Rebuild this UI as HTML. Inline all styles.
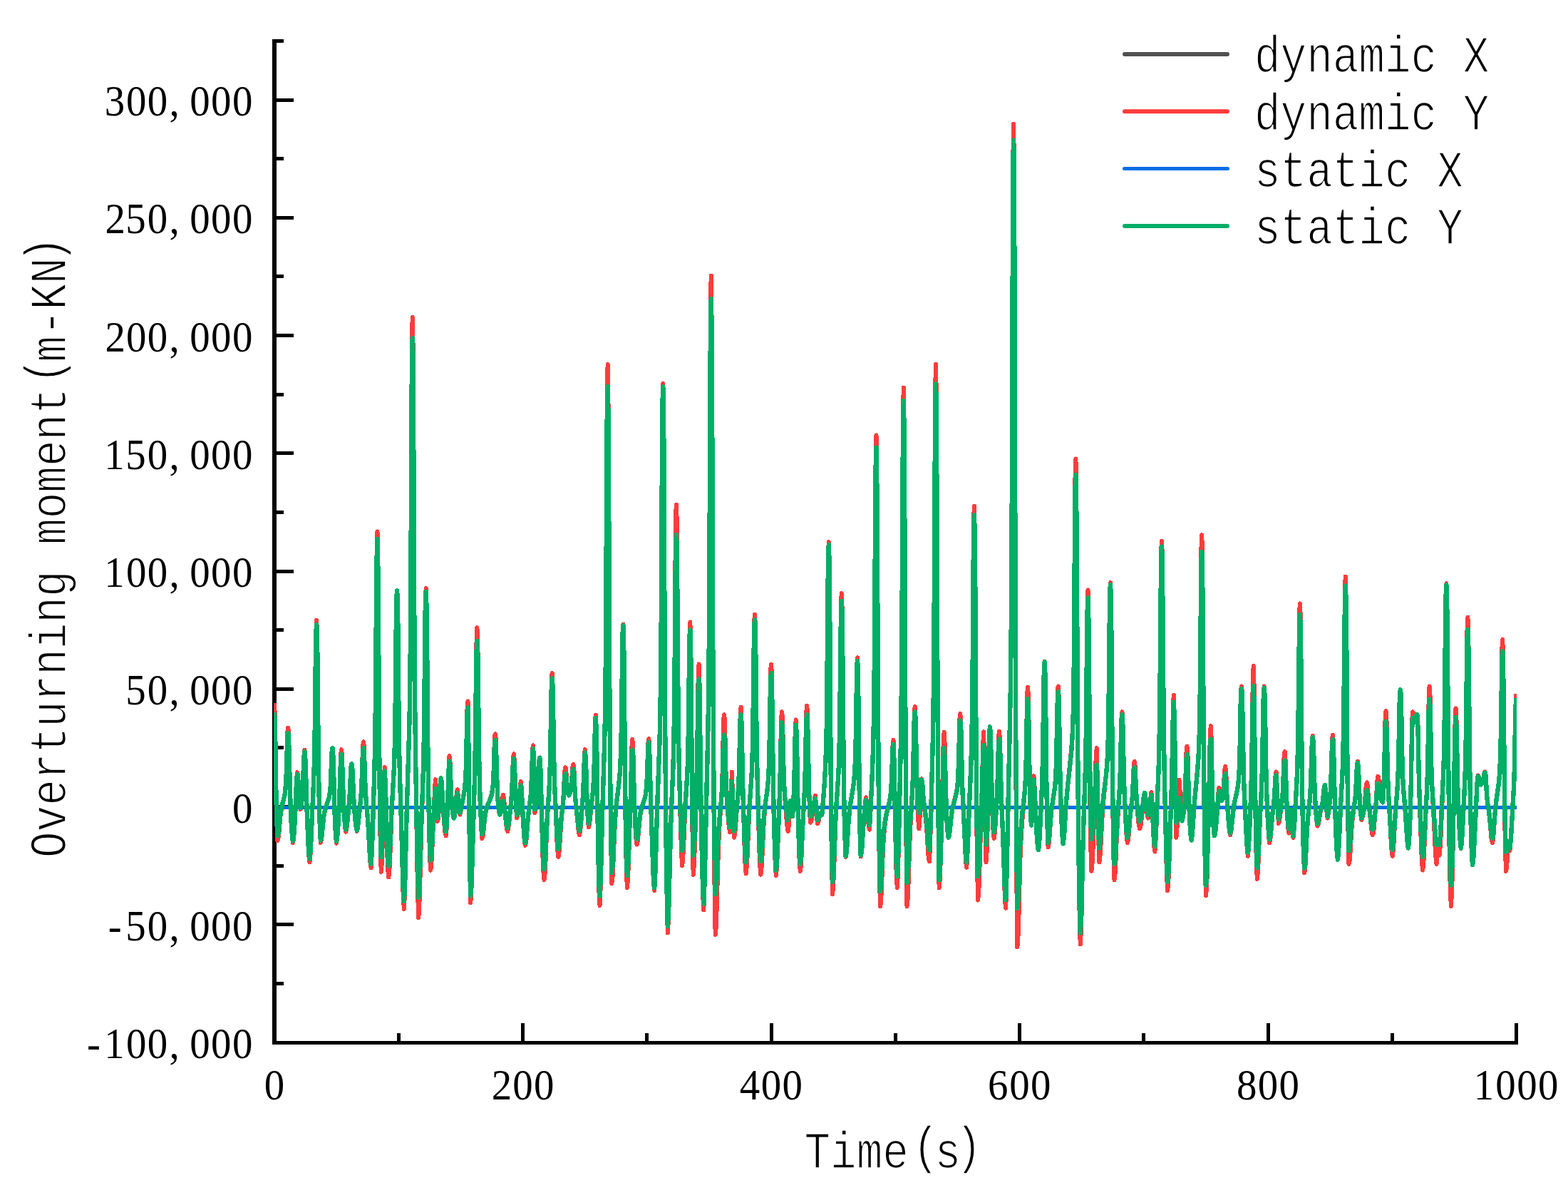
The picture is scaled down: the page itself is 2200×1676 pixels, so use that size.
<!DOCTYPE html>
<html lang="en"><head><meta charset="utf-8"><title>Overturning moment</title>
<style>html,body{margin:0;padding:0;background:#fff}body{width:2200px;height:1676px;overflow:hidden}svg{display:block}text{font-family:"Liberation Serif",serif;fill:#000}text.m{font-family:"Liberation Mono",monospace;stroke:#fff;stroke-linejoin:round}</style></head><body>
<svg width="2200" height="1676" viewBox="0 0 2200 1676">
<rect width="2200" height="1676" fill="#fff"/>
<g fill="#000" shape-rendering="crispEdges">
<rect x="382" y="55" width="6" height="1410"/>
<rect x="382" y="1460" width="1748" height="5"/>
<rect x="382" y="1460" width="30" height="5"/>
<rect x="382" y="1377" width="16" height="5"/>
<rect x="382" y="1294" width="30" height="5"/>
<rect x="382" y="1212" width="16" height="5"/>
<rect x="382" y="1129" width="30" height="5"/>
<rect x="382" y="1046" width="16" height="5"/>
<rect x="382" y="964" width="30" height="5"/>
<rect x="382" y="881" width="16" height="5"/>
<rect x="382" y="799" width="30" height="5"/>
<rect x="382" y="716" width="16" height="5"/>
<rect x="382" y="633" width="30" height="5"/>
<rect x="382" y="551" width="16" height="5"/>
<rect x="382" y="468" width="30" height="5"/>
<rect x="382" y="385" width="16" height="5"/>
<rect x="382" y="303" width="30" height="5"/>
<rect x="382" y="220" width="16" height="5"/>
<rect x="382" y="138" width="30" height="5"/>
<rect x="382" y="55" width="16" height="5"/>
<rect x="557" y="1449" width="5" height="13"/>
<rect x="731" y="1435" width="5" height="27"/>
<rect x="905" y="1449" width="5" height="13"/>
<rect x="1080" y="1435" width="5" height="27"/>
<rect x="1254" y="1449" width="5" height="13"/>
<rect x="1428" y="1435" width="5" height="27"/>
<rect x="1602" y="1449" width="5" height="13"/>
<rect x="1777" y="1435" width="5" height="27"/>
<rect x="1951" y="1449" width="5" height="13"/>
<rect x="2125" y="1435" width="5" height="27"/>
</g>
<clipPath id="plot"><rect x="384" y="40" width="1744" height="1420"/></clipPath>
<g fill="none" stroke-linejoin="round" stroke-linecap="butt" clip-path="url(#plot)" shape-rendering="crispEdges">
<path d="M385.0 1132.5H2127.5" stroke="#515151" stroke-width="4"/>
<path d="M385.0 986.4L385.5 996.7L386.0 1014.0L386.5 1043.8L387.4 1114.4L387.9 1139.8L388.7 1164.3L389.4 1179.2L390.1 1176.9L390.6 1174.2L390.9 1172.5L391.4 1168.0L393.1 1148.9L393.6 1144.3L394.4 1138.7L395.1 1134.1L395.8 1130.3L398.3 1119.4L399.1 1115.8L399.8 1111.3L400.5 1104.7L401.0 1097.9L401.3 1093.4L401.8 1081.1L402.8 1043.9L403.3 1029.0L403.5 1024.8L403.8 1022.5L404.0 1021.4L404.3 1020.6L404.8 1025.3L405.0 1029.1L405.2 1034.8L405.7 1053.4L407.0 1109.2L408.0 1138.5L408.7 1155.1L409.5 1168.0L410.2 1176.6L410.9 1182.2L411.7 1178.3L412.2 1174.3L412.7 1168.5L413.2 1160.8L414.4 1135.9L415.9 1097.8L416.4 1089.5L416.9 1084.9L417.1 1083.2L417.4 1084.1L417.9 1086.8L418.1 1089.4L418.6 1097.6L419.4 1113.0L419.9 1121.1L420.6 1129.0L421.1 1132.5L421.6 1135.2L422.6 1130.3L423.3 1125.3L423.8 1120.9L424.3 1114.9L425.0 1100.8L426.0 1071.4L426.5 1059.4L426.8 1055.9L427.0 1053.8L427.5 1051.6L428.0 1056.3L428.5 1064.7L429.0 1079.9L429.8 1109.0L430.5 1134.0L432.2 1180.0L432.7 1190.4L433.2 1198.5L433.7 1204.1L434.5 1209.4L435.0 1204.7L435.5 1198.8L436.0 1190.9L436.5 1180.7L438.2 1138.2L440.0 1098.1L440.7 1075.5L441.2 1053.9L441.7 1022.8L442.7 931.0L443.2 893.3L443.5 882.4L443.7 876.1L444.2 870.0L444.7 880.1L444.9 888.4L445.2 901.1L445.7 942.8L446.6 1048.0L447.4 1103.0L447.9 1128.2L448.3 1147.1L449.1 1167.3L449.8 1181.7L450.3 1180.6L450.5 1179.8L451.0 1177.5L451.3 1175.9L451.8 1171.6L453.0 1158.1L453.8 1150.8L454.5 1145.1L455.2 1140.6L456.0 1137.1L457.0 1133.3L458.0 1130.2L460.4 1123.0L461.4 1119.7L462.2 1116.4L462.9 1111.5L463.4 1106.5L463.7 1103.1L464.2 1094.0L465.1 1066.4L465.6 1055.3L465.9 1052.2L466.1 1050.5L466.4 1049.6L466.6 1049.1L467.1 1054.8L467.6 1064.8L468.1 1082.0L469.4 1133.7L470.1 1155.5L470.6 1165.9L471.1 1173.4L471.6 1178.7L472.1 1182.7L472.8 1178.3L473.6 1171.2L474.1 1164.3L474.8 1151.3L475.5 1136.2L476.3 1118.1L477.5 1076.1L478.0 1062.1L478.5 1054.8L479.0 1051.1L479.5 1054.8L480.0 1062.2L480.5 1076.3L481.7 1118.5L482.2 1130.8L482.7 1140.7L483.2 1148.9L484.0 1158.1L484.5 1162.3L485.2 1166.9L485.7 1165.2L486.2 1163.1L486.9 1158.0L487.7 1150.9L489.7 1129.3L490.4 1119.6L490.9 1111.0L491.9 1087.6L492.4 1078.1L492.6 1075.3L492.9 1073.5L493.4 1071.4L493.9 1073.7L494.1 1075.7L494.4 1078.8L494.9 1088.6L495.6 1107.5L496.1 1118.1L496.6 1126.4L497.3 1136.7L498.3 1148.8L499.1 1156.5L499.8 1161.9L500.3 1164.3L500.8 1166.1L501.3 1164.2L501.8 1161.9L502.5 1156.6L505.7 1123.6L506.5 1114.6L507.0 1106.4L507.5 1094.9L508.5 1062.2L509.0 1049.0L509.2 1045.1L509.5 1042.8L510.0 1040.4L510.4 1043.2L510.7 1045.8L510.9 1049.8L511.4 1063.5L512.4 1097.2L513.2 1113.8L513.9 1124.7L515.6 1145.0L516.4 1155.5L517.1 1168.3L518.6 1198.0L519.1 1205.9L519.4 1209.0L519.9 1213.5L520.6 1217.3L521.3 1206.2L521.8 1196.6L522.8 1169.9L525.0 1093.8L525.5 1074.0L526.0 1049.6L526.5 1016.7L527.0 969.9L528.0 834.2L528.5 779.4L528.8 763.6L529.0 754.4L529.5 745.4L530.0 763.5L530.5 799.5L531.0 867.7L532.0 1034.4L532.7 1120.0L533.5 1173.2L534.0 1197.0L534.7 1223.0L535.2 1218.2L535.7 1211.3L536.4 1193.7L537.2 1165.8L538.2 1119.2L538.7 1099.5L539.2 1086.0L539.7 1076.3L540.4 1088.6L540.9 1102.4L542.9 1182.2L543.6 1205.3L544.1 1216.4L544.6 1223.8L545.3 1230.5L546.1 1223.3L546.6 1216.4L547.3 1201.1L548.8 1161.6L549.5 1143.9L550.2 1128.9L552.4 1088.9L552.9 1077.6L553.4 1063.3L553.9 1043.4L554.4 1014.4L554.9 972.5L555.6 892.7L556.1 852.1L556.4 840.7L556.6 834.3L557.1 828.5L557.6 836.1L557.8 843.6L558.1 856.0L558.6 898.6L559.5 1006.1L560.0 1044.2L560.5 1071.5L561.3 1101.1L563.2 1166.7L565.2 1241.8L565.9 1260.8L566.4 1268.9L566.9 1275.0L567.9 1254.6L568.6 1231.0L571.1 1125.2L573.3 1050.5L574.1 1022.8L574.6 999.9L575.1 969.9L575.8 899.3L576.3 822.5L577.3 591.6L577.8 498.1L578.1 471.9L578.3 457.3L578.6 449.8L578.8 445.0L579.3 462.2L579.5 479.2L579.8 508.0L580.3 607.1L581.3 851.8L581.8 936.7L582.3 997.3L583.3 1081.4L585.0 1196.8L586.0 1247.8L586.5 1266.0L587.2 1287.4L588.0 1277.6L588.7 1260.8L589.2 1244.2L591.2 1165.4L593.5 1097.5L594.2 1069.7L594.7 1043.6L595.2 1006.5L596.2 897.8L596.7 853.3L597.0 840.3L597.2 832.7L597.7 825.0L598.2 836.4L598.4 845.9L598.7 860.7L599.2 909.1L600.1 1031.4L600.6 1077.8L601.1 1113.8L601.9 1155.0L602.6 1185.2L603.3 1205.9L604.1 1220.6L604.6 1218.0L605.0 1214.1L605.8 1203.7L606.3 1193.5L610.0 1107.2L610.5 1099.6L611.2 1093.1L612.2 1111.1L613.5 1142.6L614.0 1152.0L614.5 1149.5L615.0 1146.2L615.7 1138.4L616.2 1130.4L617.2 1108.9L617.7 1099.9L618.2 1094.4L618.7 1091.2L619.2 1093.6L619.4 1095.4L619.9 1101.4L621.4 1129.4L622.4 1144.1L623.4 1157.1L623.9 1162.5L624.4 1166.7L624.9 1169.6L625.6 1172.3L626.1 1168.3L626.6 1162.9L627.3 1150.1L628.1 1129.5L629.1 1091.2L629.6 1075.3L630.0 1065.9L630.5 1060.2L631.0 1062.8L631.3 1065.0L631.5 1068.5L632.0 1079.9L633.0 1108.2L633.8 1122.8L634.3 1129.7L635.0 1137.4L635.5 1141.2L636.2 1145.4L636.7 1147.5L637.5 1145.2L638.2 1141.4L638.7 1137.4L639.2 1132.1L640.2 1118.5L640.7 1112.8L641.2 1109.4L641.7 1107.3L642.2 1110.1L642.7 1114.2L644.2 1133.9L644.9 1140.0L645.4 1142.6L646.6 1137.6L647.6 1132.5L650.6 1115.1L651.3 1110.3L652.1 1104.3L652.8 1095.6L653.3 1086.6L653.6 1080.5L654.1 1064.1L655.0 1014.5L655.5 994.6L655.8 989.1L656.0 986.0L656.3 984.5L656.5 983.5L657.0 1012.8L657.5 1051.2L659.0 1204.2L659.5 1236.5L660.2 1266.4L660.7 1260.6L661.2 1252.8L662.0 1234.6L665.9 1092.0L666.4 1067.8L666.9 1035.0L667.9 942.7L668.4 905.4L668.7 894.3L668.9 887.5L669.4 880.2L669.9 887.6L670.1 894.4L670.4 905.6L670.9 943.5L671.9 1036.9L672.4 1070.2L672.9 1094.7L673.6 1121.9L674.4 1142.6L674.9 1153.6L675.3 1162.5L676.3 1176.0L677.1 1174.2L677.6 1172.0L677.8 1170.5L678.3 1166.6L680.3 1147.8L681.0 1142.5L681.8 1138.5L682.8 1134.2L684.0 1130.1L685.2 1126.6L688.0 1119.5L689.2 1115.7L690.2 1111.6L690.9 1106.8L691.4 1102.0L691.7 1098.7L692.2 1089.7L692.7 1076.3L693.7 1042.2L693.9 1036.5L694.2 1032.8L694.4 1030.8L694.7 1029.8L694.9 1029.3L695.4 1032.4L695.6 1035.2L695.9 1039.8L696.4 1055.4L697.4 1093.7L698.1 1112.6L698.6 1121.0L699.4 1130.1L700.1 1136.4L701.1 1142.6L701.6 1141.6L702.1 1140.3L702.8 1137.1L703.6 1131.9L704.6 1122.4L705.0 1118.5L705.5 1116.1L706.0 1114.7L706.8 1118.2L707.3 1122.1L709.5 1148.7L710.2 1156.3L710.7 1160.3L711.0 1161.8L711.5 1164.1L712.2 1166.1L713.0 1163.4L713.7 1159.0L714.2 1154.8L716.7 1129.2L717.4 1120.6L717.9 1113.3L718.4 1103.5L719.4 1075.9L719.9 1064.8L720.1 1061.5L720.4 1059.4L720.9 1057.3L721.4 1061.5L721.9 1069.3L722.4 1083.5L723.4 1117.1L723.9 1129.0L724.6 1140.4L725.3 1147.5L725.8 1146.0L726.3 1143.9L726.8 1141.2L727.3 1137.3L727.8 1132.2L728.3 1125.7L729.3 1108.8L729.8 1101.9L730.3 1098.2L730.8 1096.1L731.3 1099.7L731.5 1102.0L732.0 1109.2L733.8 1146.9L735.0 1169.3L735.5 1176.0L736.0 1180.7L736.5 1183.8L737.0 1185.9L737.7 1183.1L738.2 1180.0L738.5 1177.9L739.0 1172.6L740.4 1153.1L741.2 1144.6L742.2 1135.5L743.9 1121.8L744.7 1114.0L745.1 1106.6L745.6 1096.1L746.6 1065.6L747.1 1053.2L747.4 1049.6L747.6 1047.5L748.1 1045.4L748.8 1058.3L749.3 1074.3L750.4 1140.1L751.4 1136.6L752.4 1131.8L753.1 1126.7L753.9 1119.9L754.4 1113.6L754.9 1104.8L755.8 1079.6L756.3 1069.4L756.6 1066.4L756.8 1064.6L757.3 1062.7L757.8 1069.4L758.1 1074.0L758.6 1087.6L760.3 1159.9L761.5 1202.6L762.0 1215.2L762.5 1224.2L763.0 1230.1L763.5 1234.2L764.3 1228.4L764.8 1222.3L765.0 1218.2L765.5 1207.9L767.0 1170.0L767.7 1153.4L768.5 1139.7L770.4 1107.5L771.2 1091.2L771.7 1075.4L772.2 1052.9L773.2 987.1L773.7 960.5L773.9 952.8L774.2 948.3L774.7 943.9L775.1 949.0L775.4 954.0L775.6 962.1L776.1 989.7L777.1 1058.0L777.6 1082.1L778.1 1099.8L778.9 1119.8L781.3 1176.6L781.8 1185.7L782.3 1192.8L782.8 1197.9L783.3 1202.0L783.8 1200.2L784.3 1197.5L785.0 1189.9L786.8 1162.3L787.5 1151.8L788.3 1143.2L789.8 1128.0L790.2 1121.7L790.7 1113.7L791.7 1091.9L792.2 1083.0L792.5 1080.3L792.7 1078.5L793.2 1076.3L793.7 1077.5L794.0 1078.6L794.2 1080.3L794.7 1086.3L795.7 1100.9L796.2 1105.9L796.9 1110.7L797.4 1112.9L798.2 1115.4L799.2 1113.0L799.9 1110.9L800.4 1109.0L800.9 1106.4L801.4 1102.9L801.9 1097.7L802.9 1082.3L803.4 1076.1L803.6 1074.3L803.9 1073.2L804.4 1072.1L804.9 1074.1L805.1 1075.9L805.3 1078.7L805.6 1082.7L806.8 1110.8L807.3 1119.1L807.8 1125.6L811.3 1162.1L812.0 1167.3L812.5 1169.5L813.0 1171.1L813.5 1168.9L814.0 1166.2L814.8 1160.0L815.7 1148.1L817.2 1127.7L818.0 1115.0L818.5 1103.5L819.5 1072.5L820.0 1060.0L820.2 1056.2L820.4 1053.8L820.9 1051.1L821.4 1056.0L821.9 1064.8L822.4 1080.7L823.4 1119.0L824.2 1138.9L824.9 1151.0L825.4 1156.3L825.9 1160.4L826.9 1155.9L827.4 1152.7L827.9 1148.6L829.6 1132.0L831.3 1116.4L831.8 1111.2L832.3 1104.8L833.1 1090.6L833.6 1075.5L834.6 1031.1L835.0 1013.2L835.3 1008.1L835.5 1005.2L836.0 1002.6L836.5 1015.6L836.8 1024.4L837.3 1050.7L838.8 1167.5L839.5 1213.1L840.0 1235.5L840.5 1251.5L841.0 1262.3L841.5 1270.1L842.5 1250.1L843.2 1226.8L845.5 1132.1L848.0 1043.1L848.5 1021.1L849.0 992.9L849.7 927.8L850.2 857.8L851.2 647.0L851.7 561.0L852.0 536.7L852.2 523.0L852.5 515.8L852.7 511.1L853.2 534.2L853.4 553.6L853.7 583.6L854.2 681.8L855.1 928.9L855.9 1056.8L856.4 1115.1L856.9 1158.8L857.6 1205.5L858.3 1239.1L859.1 1234.1L859.6 1228.4L859.8 1224.4L860.3 1214.5L862.0 1172.1L862.8 1157.5L863.5 1146.0L864.3 1136.7L865.2 1126.5L868.0 1103.3L869.0 1094.0L869.7 1085.2L870.4 1072.6L871.2 1051.6L871.7 1028.7L872.2 994.7L873.2 908.9L873.4 894.3L873.7 884.9L873.9 879.7L874.2 877.2L874.4 875.6L874.9 890.5L875.4 917.7L875.9 966.9L876.9 1087.9L877.4 1135.2L877.9 1171.8L878.4 1199.4L878.9 1219.5L879.4 1234.0L879.9 1245.3L880.3 1241.3L880.8 1235.6L881.3 1226.7L881.8 1214.4L884.6 1124.8L886.0 1060.3L886.5 1046.5L886.8 1042.3L887.3 1036.7L887.8 1041.7L888.3 1051.1L888.8 1068.4L890.0 1120.9L891.0 1149.9L891.7 1165.7L892.2 1173.3L892.7 1178.9L893.5 1184.7L894.0 1183.5L894.2 1182.6L894.7 1180.1L895.0 1178.3L895.4 1173.7L897.4 1151.5L898.2 1145.3L898.9 1140.5L899.7 1136.7L900.6 1132.5L901.6 1129.1L904.1 1121.1L905.1 1117.3L905.8 1113.6L906.6 1108.0L907.1 1102.3L907.3 1098.4L907.8 1087.9L908.8 1056.1L909.3 1043.3L909.6 1039.7L909.8 1037.8L910.0 1036.8L910.3 1036.2L910.8 1041.4L911.3 1050.8L911.8 1068.0L913.0 1120.0L916.2 1218.9L916.7 1231.0L917.2 1239.7L917.7 1245.2L918.2 1249.0L919.2 1232.0L919.9 1212.6L922.4 1125.5L925.4 1042.3L926.1 1014.3L926.6 988.4L927.3 927.1L927.8 860.4L928.8 661.9L929.3 582.5L929.6 560.4L929.8 548.1L930.1 541.8L930.3 537.9L930.8 560.0L931.0 579.0L931.3 608.7L931.8 705.8L932.8 944.1L933.3 1032.6L933.8 1101.1L934.5 1180.7L935.3 1239.7L936.0 1280.1L936.8 1308.4L937.5 1297.7L938.3 1279.3L938.8 1261.1L940.2 1194.6L941.0 1165.6L942.0 1134.4L944.2 1075.9L944.7 1060.0L945.2 1039.9L945.9 994.0L946.4 945.2L947.4 800.7L947.9 742.6L948.2 726.1L948.4 716.7L948.9 708.1L949.4 718.7L949.6 729.4L949.9 747.4L950.4 809.3L951.4 960.6L951.9 1012.6L952.4 1049.6L953.4 1100.8L954.9 1159.8L955.9 1190.1L956.4 1201.1L957.1 1214.4L957.6 1210.4L958.1 1205.3L958.8 1193.7L961.0 1144.4L961.8 1130.5L963.7 1097.5L964.2 1087.6L964.7 1075.0L965.5 1046.4L965.9 1016.2L966.9 928.1L967.4 893.2L967.7 883.3L967.9 877.7L968.4 872.5L968.9 892.2L969.4 924.1L969.8 977.5L970.8 1106.0L971.3 1153.1L972.0 1198.9L972.7 1226.8L973.2 1221.5L973.7 1214.8L974.4 1199.8L975.4 1170.9L976.9 1120.5L977.4 1100.6L977.9 1075.8L978.4 1043.2L979.1 983.9L979.6 953.2L979.9 944.0L980.1 938.1L980.6 931.5L981.1 941.9L981.6 961.8L982.1 998.6L983.3 1109.1L984.1 1158.5L984.8 1200.3L985.6 1234.9L986.1 1252.0L986.6 1264.1L987.3 1276.3L988.3 1251.5L988.8 1234.3L989.3 1212.9L991.1 1125.6L993.1 1033.1L993.6 1005.4L994.1 970.5L994.8 891.2L995.3 806.3L996.3 551.7L996.8 447.7L997.1 418.2L997.3 401.4L997.6 392.5L997.8 386.6L998.3 415.6L998.5 439.6L998.8 476.4L999.3 596.0L1000.2 897.7L1000.7 1011.8L1001.2 1098.4L1001.7 1165.0L1002.2 1216.4L1002.9 1271.7L1003.7 1310.9L1004.2 1307.4L1004.4 1304.8L1004.9 1296.8L1005.1 1291.0L1005.6 1275.8L1007.4 1209.8L1007.9 1194.4L1008.6 1175.6L1009.1 1165.5L1009.9 1152.8L1012.1 1120.5L1012.8 1105.8L1013.6 1082.5L1014.6 1035.0L1015.0 1015.6L1015.3 1009.7L1015.5 1006.1L1016.0 1002.1L1016.5 1005.7L1016.8 1009.1L1017.0 1014.8L1017.5 1033.9L1018.5 1081.4L1019.3 1104.9L1020.2 1124.8L1021.2 1140.4L1022.0 1150.7L1022.5 1156.4L1023.0 1160.9L1024.0 1167.3L1024.7 1150.8L1025.9 1108.4L1026.9 1082.5L1027.9 1109.4L1029.2 1153.9L1029.7 1166.3L1030.1 1174.8L1030.6 1172.1L1031.1 1168.9L1031.6 1164.5L1032.1 1158.9L1035.3 1115.2L1036.1 1102.5L1036.6 1090.5L1037.1 1073.5L1038.1 1024.1L1038.6 1004.1L1038.8 998.4L1039.1 995.0L1039.6 991.7L1040.0 997.9L1040.5 1010.5L1041.0 1034.4L1042.3 1106.3L1043.0 1137.1L1044.3 1179.2L1045.0 1200.1L1045.7 1214.6L1046.2 1220.8L1046.7 1225.5L1047.0 1223.6L1047.7 1216.4L1048.2 1209.0L1048.7 1199.1L1050.2 1162.8L1050.9 1146.8L1051.9 1129.3L1054.3 1092.0L1054.8 1082.3L1055.3 1069.8L1056.1 1040.8L1056.5 1009.8L1057.5 918.7L1058.0 882.6L1058.3 872.5L1058.5 866.7L1059.0 861.6L1059.5 869.1L1059.7 876.1L1060.0 887.4L1060.5 926.0L1061.2 1002.0L1061.7 1043.4L1062.2 1074.0L1062.7 1097.3L1063.6 1134.0L1065.3 1190.7L1065.8 1203.5L1066.3 1213.4L1066.8 1220.8L1067.3 1226.8L1068.0 1222.3L1068.5 1217.3L1068.8 1213.8L1069.3 1205.0L1071.0 1167.4L1071.5 1158.5L1072.2 1147.4L1073.0 1138.5L1073.7 1131.1L1076.4 1108.5L1077.2 1101.4L1077.9 1092.1L1078.4 1083.5L1078.9 1071.2L1079.1 1062.9L1079.6 1040.5L1080.6 973.5L1081.1 946.6L1081.4 939.1L1081.6 934.9L1081.9 932.8L1082.1 931.5L1082.6 940.0L1082.8 947.0L1083.1 957.6L1083.6 991.7L1084.8 1093.1L1085.3 1122.3L1086.1 1157.7L1086.8 1186.6L1087.3 1201.7L1088.1 1217.6L1088.8 1228.0L1089.3 1224.1L1089.8 1218.7L1090.5 1205.7L1091.3 1187.0L1093.3 1132.0L1094.0 1108.9L1094.5 1088.8L1095.5 1035.8L1096.0 1014.3L1096.2 1007.7L1096.5 1003.4L1097.0 998.3L1097.5 1001.7L1097.7 1005.0L1098.0 1010.5L1098.5 1029.7L1099.5 1077.2L1100.0 1093.8L1100.4 1105.5L1101.4 1121.9L1103.7 1151.0L1104.2 1156.2L1104.7 1160.3L1105.6 1166.1L1106.1 1163.0L1106.4 1160.9L1106.9 1155.1L1107.4 1147.1L1108.6 1123.3L1109.4 1128.7L1110.6 1139.1L1111.1 1142.2L1111.6 1144.3L1111.8 1145.1L1112.6 1136.6L1113.3 1124.2L1114.1 1103.8L1114.6 1083.3L1115.5 1033.5L1115.8 1024.6L1116.0 1018.3L1116.3 1014.3L1116.8 1009.5L1117.3 1017.5L1117.8 1031.6L1118.3 1056.6L1119.5 1131.8L1120.5 1175.4L1121.0 1191.7L1121.5 1204.2L1122.0 1213.0L1122.8 1221.8L1123.3 1218.4L1123.8 1213.7L1124.5 1202.3L1126.5 1156.4L1128.7 1110.5L1129.2 1096.6L1129.7 1077.9L1130.7 1025.4L1131.2 1004.2L1131.4 997.9L1131.7 993.9L1132.2 989.7L1132.7 995.8L1132.9 1000.9L1133.2 1008.5L1133.7 1032.9L1134.7 1092.2L1135.4 1121.6L1136.1 1139.3L1136.6 1147.4L1137.1 1153.7L1137.6 1153.0L1138.1 1151.8L1138.6 1150.1L1139.1 1147.6L1141.1 1134.5L1142.8 1120.5L1143.3 1117.9L1143.6 1117.1L1144.1 1115.9L1146.0 1145.6L1146.5 1151.2L1147.0 1155.0L1147.8 1154.1L1148.3 1152.9L1148.5 1152.1L1149.0 1149.9L1150.7 1140.7L1151.5 1141.7L1152.0 1142.1L1152.5 1142.4L1153.2 1142.6L1154.2 1132.0L1155.2 1120.0L1156.2 1106.4L1157.2 1091.4L1157.9 1078.2L1158.4 1067.4L1159.2 1044.9L1159.7 1022.0L1159.9 1006.8L1160.4 965.2L1161.4 839.9L1161.9 789.2L1162.2 774.9L1162.4 767.0L1162.7 762.9L1162.9 760.2L1163.4 780.4L1163.9 817.9L1164.4 886.7L1165.4 1055.8L1166.1 1145.6L1166.8 1202.2L1167.3 1227.2L1168.1 1254.0L1168.8 1246.9L1169.5 1234.5L1170.3 1215.0L1171.8 1170.2L1172.5 1151.8L1173.5 1132.2L1175.5 1100.8L1176.2 1087.8L1176.7 1077.2L1177.2 1063.5L1177.9 1031.7L1178.4 997.5L1179.4 896.3L1179.9 855.7L1180.2 844.3L1180.4 837.8L1180.7 834.4L1180.9 832.1L1181.4 844.4L1181.6 854.6L1181.9 870.3L1182.4 921.0L1183.4 1044.9L1184.1 1108.9L1184.6 1138.7L1185.1 1161.3L1185.9 1185.2L1186.6 1202.0L1187.4 1198.3L1187.9 1194.3L1188.1 1191.6L1188.6 1184.9L1190.3 1156.3L1191.1 1146.4L1191.8 1138.4L1192.6 1131.9L1193.6 1124.8L1196.5 1106.8L1197.5 1100.1L1198.5 1091.4L1199.2 1081.4L1199.7 1071.4L1200.0 1064.7L1200.5 1046.1L1201.0 1018.5L1202.0 948.8L1202.2 937.0L1202.5 929.4L1202.7 925.3L1203.0 923.3L1203.2 922.1L1203.7 937.0L1204.2 962.5L1205.7 1109.0L1206.2 1145.4L1206.9 1180.3L1207.7 1201.5L1208.2 1199.9L1208.4 1198.8L1208.9 1195.3L1209.2 1192.8L1209.9 1182.4L1211.4 1157.7L1212.6 1140.9L1213.9 1126.4L1214.4 1122.4L1215.1 1118.4L1215.8 1123.5L1216.3 1128.6L1217.6 1145.9L1218.3 1154.5L1219.1 1160.1L1219.6 1162.2L1220.0 1163.6L1221.0 1147.5L1221.8 1133.1L1223.8 1085.5L1224.5 1064.6L1225.0 1048.1L1225.8 1015.0L1226.5 960.4L1227.0 901.5L1228.0 724.3L1228.5 652.2L1228.8 631.9L1229.0 620.4L1229.3 614.4L1229.5 610.5L1230.0 634.4L1230.5 681.8L1231.0 771.7L1232.0 995.4L1232.7 1113.8L1233.2 1168.3L1233.7 1208.6L1234.2 1238.4L1234.9 1271.3L1235.4 1269.4L1235.6 1267.9L1236.1 1262.6L1236.4 1258.5L1236.9 1247.7L1238.1 1212.9L1238.9 1194.4L1239.6 1180.2L1240.3 1169.6L1241.3 1159.4L1242.6 1150.3L1243.3 1146.0L1244.3 1141.0L1247.3 1127.9L1248.3 1123.1L1249.0 1118.6L1249.8 1112.3L1250.5 1102.1L1251.0 1091.2L1252.0 1059.0L1252.5 1045.9L1252.7 1042.2L1253.0 1040.0L1253.5 1037.9L1254.2 1055.2L1254.7 1075.5L1256.2 1165.1L1256.7 1190.0L1257.2 1210.2L1257.9 1231.0L1258.4 1239.3L1258.9 1245.3L1259.7 1228.8L1260.2 1214.9L1261.2 1176.7L1263.4 1068.9L1263.9 1040.2L1264.4 1004.5L1264.9 956.0L1265.4 886.3L1266.4 680.1L1266.9 595.5L1267.2 571.2L1267.4 557.0L1267.9 543.5L1268.4 576.1L1268.9 635.4L1269.4 743.1L1270.3 1006.9L1270.8 1103.4L1271.6 1198.3L1272.0 1239.6L1272.5 1271.3L1273.0 1267.8L1273.3 1265.4L1273.8 1258.4L1274.0 1253.5L1274.5 1240.8L1276.2 1186.2L1277.0 1167.4L1278.0 1147.8L1279.7 1118.9L1280.4 1102.7L1281.2 1077.6L1282.2 1026.1L1282.7 1005.2L1282.9 999.0L1283.2 995.1L1283.7 990.9L1284.2 996.5L1284.4 1001.2L1284.7 1008.4L1285.1 1031.8L1286.1 1089.5L1286.9 1119.3L1287.4 1133.1L1287.9 1143.5L1288.4 1151.4L1288.9 1157.4L1289.4 1162.4L1290.1 1154.8L1290.8 1141.2L1291.8 1114.4L1292.3 1103.4L1293.1 1092.4L1293.3 1093.2L1293.8 1095.5L1294.3 1100.5L1295.3 1116.5L1296.1 1125.9L1296.8 1132.4L1298.5 1145.3L1299.5 1155.0L1300.3 1164.5L1302.0 1193.0L1302.5 1199.6L1302.8 1202.1L1303.3 1205.6L1303.5 1206.7L1304.0 1208.2L1304.7 1192.5L1305.2 1180.1L1306.5 1139.2L1308.4 1057.9L1308.9 1032.8L1309.4 1001.8L1310.2 932.3L1310.6 859.3L1311.6 646.5L1312.1 561.7L1312.4 537.7L1312.6 523.9L1313.1 511.0L1313.6 542.1L1313.8 565.4L1314.3 645.6L1315.5 970.9L1316.0 1070.3L1316.7 1168.7L1317.1 1211.9L1317.6 1245.3L1318.1 1240.8L1318.6 1234.4L1319.1 1224.8L1319.6 1211.5L1320.3 1186.4L1321.6 1138.8L1323.3 1054.1L1323.8 1038.2L1324.1 1033.4L1324.6 1026.8L1325.0 1031.5L1325.5 1041.0L1326.0 1059.1L1327.3 1113.4L1327.8 1129.1L1328.3 1141.7L1328.8 1152.1L1329.5 1163.6L1330.0 1169.0L1330.7 1174.8L1331.5 1172.5L1332.0 1170.0L1332.2 1168.4L1332.7 1164.2L1334.5 1146.6L1335.2 1140.5L1335.9 1135.7L1336.7 1131.7L1337.7 1127.3L1340.6 1116.1L1341.6 1112.0L1342.6 1106.5L1343.4 1100.4L1343.9 1094.1L1344.1 1089.9L1344.6 1078.3L1345.1 1061.1L1346.1 1017.5L1346.3 1010.1L1346.6 1005.3L1346.8 1002.8L1347.1 1001.5L1347.3 1000.8L1347.8 1005.1L1348.1 1008.8L1348.3 1014.9L1348.8 1034.9L1349.8 1084.3L1350.3 1102.2L1350.8 1115.8L1354.5 1197.8L1355.2 1208.9L1355.7 1213.5L1356.2 1216.9L1357.2 1203.4L1357.7 1194.0L1358.2 1182.2L1360.2 1127.1L1362.4 1071.3L1362.8 1055.7L1363.3 1035.7L1363.8 1008.1L1364.3 967.7L1364.8 909.4L1365.5 798.5L1366.0 742.3L1366.3 726.6L1366.5 717.6L1367.0 709.6L1367.5 732.1L1368.0 773.2L1368.5 848.6L1369.4 1037.9L1370.1 1139.7L1370.9 1203.8L1371.4 1232.1L1372.1 1262.6L1372.6 1258.6L1373.1 1252.6L1373.6 1243.1L1374.1 1229.9L1375.8 1171.7L1377.3 1125.3L1378.0 1096.0L1379.0 1050.1L1379.3 1041.9L1379.8 1031.7L1380.2 1026.3L1380.7 1049.1L1381.2 1077.2L1382.5 1166.6L1383.0 1191.9L1383.5 1209.4L1384.0 1203.8L1384.5 1196.2L1385.0 1185.4L1385.4 1170.3L1386.2 1139.1L1387.4 1066.2L1387.9 1042.0L1388.4 1027.8L1388.9 1019.4L1389.4 1025.1L1389.9 1036.0L1390.4 1056.3L1391.4 1106.8L1391.9 1126.3L1392.4 1141.6L1392.9 1153.5L1393.4 1162.4L1393.9 1168.9L1394.6 1176.0L1395.3 1171.5L1396.1 1164.6L1396.8 1154.5L1397.8 1137.6L1398.6 1122.8L1399.3 1103.7L1399.8 1086.1L1400.5 1054.2L1401.0 1037.5L1401.3 1032.4L1401.5 1029.2L1402.0 1025.6L1402.5 1030.4L1403.0 1039.7L1403.3 1047.6L1404.3 1091.3L1405.0 1118.1L1407.2 1175.7L1409.5 1248.5L1410.2 1264.2L1410.7 1270.0L1411.2 1273.8L1412.2 1246.0L1413.1 1205.2L1414.9 1114.4L1417.3 994.3L1418.0 947.0L1418.5 903.7L1419.0 842.7L1419.5 752.8L1420.0 622.1L1420.7 372.5L1421.2 246.1L1421.5 210.8L1421.7 191.1L1422.0 180.8L1422.2 174.0L1422.7 216.9L1423.2 300.7L1423.7 460.3L1424.6 863.0L1425.3 1074.0L1426.1 1204.8L1426.6 1263.5L1427.3 1328.2L1427.8 1324.7L1428.0 1322.1L1428.5 1313.7L1428.8 1307.6L1429.3 1291.4L1431.0 1221.0L1431.7 1197.4L1432.5 1179.5L1433.2 1165.7L1434.0 1154.7L1435.0 1142.6L1437.4 1115.5L1438.2 1104.6L1438.7 1094.8L1439.2 1081.0L1439.7 1061.0L1440.6 1002.4L1441.1 978.6L1441.4 971.8L1441.6 967.7L1442.1 963.7L1442.6 971.0L1442.9 976.9L1443.1 985.9L1443.6 1014.7L1444.6 1084.8L1445.1 1109.8L1445.8 1134.6L1446.3 1145.5L1446.8 1153.9L1447.1 1157.4L1447.8 1145.9L1448.3 1134.1L1449.3 1106.2L1449.8 1096.1L1450.3 1088.2L1450.8 1091.7L1451.0 1094.1L1451.5 1101.6L1453.3 1141.7L1455.0 1174.7L1455.5 1181.6L1456.0 1186.6L1456.5 1189.8L1457.0 1192.1L1457.5 1187.9L1458.0 1182.8L1458.5 1176.1L1459.0 1167.5L1461.2 1119.5L1462.2 1093.7L1462.7 1075.5L1463.2 1050.2L1464.2 976.9L1464.7 947.0L1465.0 938.2L1465.2 933.0L1465.7 927.8L1466.2 938.9L1466.7 959.4L1467.2 996.8L1468.1 1088.9L1468.9 1136.6L1469.6 1165.6L1470.1 1178.4L1470.6 1188.4L1471.3 1184.9L1472.1 1179.0L1472.6 1173.2L1474.3 1148.9L1475.3 1137.9L1476.6 1127.5L1479.0 1110.9L1479.8 1105.1L1480.5 1097.5L1481.0 1090.4L1481.5 1080.2L1481.8 1073.4L1482.3 1054.7L1483.3 998.1L1483.8 975.2L1484.0 968.8L1484.3 965.3L1484.5 963.5L1484.8 962.5L1485.2 968.2L1485.5 973.3L1485.7 981.3L1486.2 1007.8L1487.0 1058.7L1487.5 1086.5L1488.0 1107.7L1488.7 1131.8L1489.7 1156.4L1490.2 1165.8L1490.7 1173.1L1491.7 1183.4L1492.2 1179.5L1492.9 1172.0L1493.4 1165.4L1495.4 1132.4L1496.2 1121.7L1496.9 1112.5L1498.4 1096.8L1501.9 1064.0L1503.4 1047.2L1504.4 1031.7L1505.2 1013.9L1505.7 996.1L1505.9 984.1L1506.4 951.0L1506.7 928.0L1507.2 865.5L1507.9 740.9L1508.4 676.5L1508.7 658.9L1508.9 649.8L1509.2 645.7L1509.4 643.5L1509.9 664.0L1510.4 704.8L1510.9 783.8L1512.1 1028.8L1512.5 1100.2L1513.0 1158.1L1513.5 1206.2L1514.2 1261.9L1515.0 1299.2L1515.7 1324.5L1516.4 1314.3L1516.9 1303.3L1517.2 1295.9L1517.7 1277.1L1519.1 1207.2L1519.9 1176.6L1520.6 1151.0L1522.3 1098.9L1523.1 1070.4L1523.6 1043.6L1524.0 1005.9L1525.0 898.3L1525.5 855.3L1525.8 842.8L1526.0 835.3L1526.5 827.5L1527.0 844.8L1527.5 875.3L1527.9 930.2L1528.9 1068.2L1529.6 1141.7L1530.3 1186.6L1530.8 1206.4L1531.3 1221.8L1531.8 1218.5L1532.3 1213.8L1532.8 1206.6L1533.3 1196.7L1535.7 1131.1L1536.5 1106.4L1537.2 1077.3L1537.7 1062.1L1538.2 1053.7L1538.7 1049.1L1539.2 1065.8L1539.7 1087.8L1541.2 1174.4L1541.7 1192.6L1542.4 1209.4L1543.2 1204.1L1543.9 1195.4L1544.4 1187.0L1546.2 1152.4L1547.4 1133.2L1548.1 1124.3L1548.9 1116.6L1552.1 1086.8L1552.9 1078.2L1553.4 1071.2L1553.9 1062.1L1554.4 1049.7L1554.9 1031.6L1555.1 1019.3L1555.6 985.4L1556.6 881.7L1557.1 839.7L1557.4 828.2L1557.6 821.9L1557.9 819.0L1558.1 817.2L1558.6 833.0L1559.1 862.9L1559.6 918.4L1560.5 1057.6L1561.3 1133.2L1561.8 1168.4L1562.2 1194.4L1562.7 1213.4L1563.5 1234.2L1564.2 1229.3L1564.7 1223.7L1565.0 1219.9L1565.4 1210.1L1566.9 1173.9L1567.7 1158.3L1568.7 1141.7L1570.1 1120.4L1570.9 1107.4L1571.4 1095.4L1571.9 1078.7L1572.9 1030.7L1573.4 1011.2L1573.6 1005.5L1573.9 1002.0L1574.4 998.3L1574.9 1002.8L1575.1 1006.7L1575.3 1013.0L1575.8 1033.7L1576.8 1085.1L1577.3 1104.0L1578.1 1124.9L1579.1 1146.9L1580.0 1164.9L1580.8 1174.3L1581.3 1178.7L1581.8 1182.2L1582.5 1179.6L1583.0 1176.7L1583.3 1174.7L1583.8 1169.8L1585.7 1145.7L1588.2 1122.5L1588.7 1116.2L1589.2 1107.7L1590.2 1084.0L1590.7 1074.3L1590.9 1071.4L1591.2 1069.6L1591.7 1067.7L1592.2 1070.0L1592.4 1072.0L1592.7 1075.1L1593.2 1085.3L1594.2 1110.7L1594.7 1120.3L1595.1 1127.8L1596.1 1140.2L1597.1 1150.9L1597.6 1155.1L1598.4 1159.5L1599.1 1162.4L1599.9 1160.7L1600.3 1158.8L1600.6 1157.5L1601.3 1152.2L1602.8 1138.7L1604.8 1118.3L1605.3 1114.9L1605.5 1113.8L1606.0 1112.2L1606.5 1114.2L1607.0 1117.2L1607.5 1122.1L1608.5 1134.0L1609.3 1140.5L1610.0 1144.6L1610.5 1146.3L1611.0 1147.5L1611.7 1145.0L1612.5 1140.5L1613.0 1135.8L1614.5 1117.1L1615.0 1113.4L1615.4 1111.0L1616.2 1120.8L1616.7 1130.2L1617.9 1161.6L1618.7 1177.7L1619.4 1188.1L1619.9 1192.0L1620.4 1194.6L1621.1 1185.3L1621.6 1177.5L1622.6 1156.8L1625.3 1087.1L1625.8 1072.1L1626.3 1053.5L1627.0 1011.9L1627.5 968.2L1628.5 840.3L1629.0 789.2L1629.3 774.7L1629.5 766.3L1630.0 758.6L1630.5 769.1L1630.7 779.1L1631.0 795.5L1631.5 851.3L1632.5 987.9L1633.0 1036.0L1633.5 1071.3L1634.5 1123.5L1636.2 1199.8L1636.7 1217.0L1637.2 1230.5L1637.7 1240.7L1638.2 1249.0L1638.7 1244.6L1639.2 1238.5L1640.0 1223.5L1643.4 1118.5L1643.9 1100.9L1644.4 1078.3L1645.4 1017.4L1645.9 992.8L1646.1 985.3L1646.4 980.5L1646.9 974.8L1647.3 988.7L1647.8 1009.4L1649.5 1134.6L1649.9 1158.0L1650.4 1174.8L1651.1 1167.7L1651.6 1160.0L1652.1 1148.6L1653.4 1112.0L1653.9 1101.5L1654.4 1093.6L1654.9 1097.5L1655.3 1103.5L1656.8 1134.0L1657.3 1141.4L1657.8 1146.4L1658.6 1151.3L1659.6 1146.4L1660.3 1141.2L1661.3 1131.2L1662.3 1117.2L1663.0 1100.8L1664.0 1068.6L1664.5 1055.6L1664.8 1051.7L1665.0 1049.3L1665.5 1046.6L1666.0 1051.0L1666.5 1059.4L1667.0 1074.9L1668.2 1121.8L1669.0 1142.0L1669.7 1157.4L1670.2 1165.2L1670.7 1171.1L1671.2 1175.2L1671.7 1178.5L1672.7 1170.3L1673.4 1161.5L1675.4 1130.7L1676.4 1117.4L1677.4 1106.2L1679.9 1080.4L1680.8 1068.3L1681.6 1056.3L1682.3 1038.6L1682.8 1020.6L1683.1 1008.6L1683.6 975.1L1684.1 925.2L1685.1 798.6L1685.3 777.0L1685.6 763.2L1685.8 755.8L1686.1 752.3L1686.3 750.4L1686.8 768.1L1687.3 803.2L1687.8 869.9L1688.8 1035.2L1689.3 1098.4L1689.8 1147.1L1690.3 1184.5L1690.7 1212.6L1691.2 1233.5L1692.0 1256.5L1692.5 1251.3L1693.0 1244.0L1693.5 1233.1L1694.0 1218.0L1694.7 1189.3L1695.7 1145.2L1697.4 1049.4L1697.9 1031.4L1698.2 1025.8L1698.7 1018.1L1699.2 1024.5L1699.7 1036.4L1700.1 1057.9L1701.1 1110.5L1701.9 1138.5L1702.6 1156.2L1703.1 1164.0L1703.9 1172.3L1704.4 1170.8L1704.9 1168.7L1705.3 1165.4L1705.8 1160.8L1707.6 1139.2L1709.3 1113.4L1709.8 1108.6L1710.0 1107.0L1710.5 1104.8L1711.0 1105.5L1711.3 1106.1L1711.8 1108.4L1712.8 1115.9L1713.3 1119.0L1713.8 1121.2L1714.3 1122.8L1715.0 1119.8L1715.5 1117.1L1716.2 1111.2L1716.7 1105.1L1717.7 1087.3L1718.2 1080.0L1718.5 1077.8L1718.7 1076.5L1719.2 1075.1L1719.7 1077.8L1720.2 1083.1L1720.7 1093.1L1721.9 1123.3L1722.7 1136.5L1723.7 1151.1L1724.4 1160.1L1724.9 1164.6L1725.4 1167.8L1726.1 1171.1L1726.9 1168.3L1727.6 1163.9L1728.1 1159.6L1729.9 1141.9L1731.1 1132.1L1731.8 1127.5L1732.6 1123.5L1735.3 1110.7L1736.3 1105.5L1737.3 1098.6L1738.0 1090.7L1738.5 1082.6L1738.8 1077.3L1739.3 1062.3L1739.8 1040.1L1740.7 983.9L1741.0 974.3L1741.2 968.2L1741.5 964.9L1741.7 963.4L1742.0 962.5L1742.5 967.1L1742.7 971.5L1743.0 978.8L1743.5 1003.6L1744.5 1065.0L1745.0 1086.7L1745.4 1102.5L1746.2 1120.3L1749.2 1181.9L1749.9 1192.4L1750.4 1197.1L1750.9 1200.8L1751.4 1196.1L1751.9 1190.3L1752.6 1177.8L1753.9 1147.8L1755.1 1112.4L1755.8 1084.1L1756.3 1057.6L1757.3 983.9L1757.8 954.2L1758.1 945.3L1758.3 939.9L1758.8 934.0L1759.3 948.8L1759.8 973.7L1760.3 1016.3L1761.3 1118.9L1762.0 1173.9L1762.8 1207.7L1763.3 1222.1L1763.8 1232.9L1764.3 1229.2L1764.8 1224.0L1765.5 1211.4L1767.7 1154.9L1769.7 1114.1L1770.2 1102.0L1770.7 1086.5L1771.2 1064.9L1772.2 1003.7L1772.7 978.9L1772.9 971.6L1773.2 967.1L1773.7 962.5L1774.2 967.7L1774.4 972.4L1774.7 980.1L1775.1 1005.8L1776.1 1069.6L1776.6 1092.7L1777.4 1117.5L1778.4 1142.4L1779.4 1162.3L1780.1 1172.9L1781.1 1182.2L1781.6 1180.7L1782.1 1178.5L1782.6 1175.1L1783.1 1170.2L1785.0 1146.5L1787.0 1127.9L1787.5 1122.4L1788.0 1115.3L1789.0 1096.1L1789.5 1088.3L1789.8 1085.9L1790.0 1084.3L1790.5 1082.5L1791.0 1089.2L1791.5 1098.5L1792.7 1133.9L1793.2 1144.7L1793.7 1152.1L1794.0 1155.0L1794.7 1152.5L1795.4 1148.9L1796.4 1141.8L1798.2 1127.2L1798.9 1120.1L1799.4 1114.0L1800.1 1100.5L1801.1 1072.6L1801.6 1061.3L1801.9 1058.0L1802.1 1056.0L1802.6 1054.0L1803.1 1058.3L1803.6 1066.3L1804.1 1081.0L1805.1 1117.2L1805.6 1131.6L1806.3 1147.7L1806.8 1155.5L1807.3 1161.2L1807.8 1165.4L1808.3 1168.6L1808.8 1166.9L1809.1 1165.6L1809.6 1161.5L1810.0 1154.9L1811.0 1135.7L1812.3 1156.0L1813.0 1166.2L1813.3 1168.7L1813.8 1172.1L1814.0 1173.2L1814.5 1174.8L1815.3 1167.6L1815.8 1161.7L1816.3 1154.5L1817.0 1141.6L1819.5 1093.1L1820.0 1080.7L1820.5 1064.7L1821.0 1042.3L1821.5 1009.4L1822.5 910.9L1823.0 870.4L1823.3 858.9L1823.5 852.3L1824.0 846.4L1824.5 858.0L1825.0 881.9L1825.5 928.4L1826.4 1046.1L1826.9 1091.7L1827.4 1127.3L1827.9 1155.7L1828.6 1187.8L1829.4 1209.3L1830.1 1224.3L1830.6 1222.0L1830.8 1220.4L1831.3 1215.8L1831.6 1212.5L1832.1 1204.1L1833.8 1168.1L1834.6 1155.8L1835.6 1143.1L1837.8 1120.1L1838.6 1109.4L1839.3 1092.2L1840.3 1056.2L1840.8 1041.5L1841.0 1037.2L1841.3 1034.5L1841.8 1031.8L1842.3 1035.2L1842.5 1038.2L1842.8 1042.9L1843.3 1058.7L1844.3 1097.7L1844.8 1112.0L1845.2 1123.0L1846.0 1135.8L1846.7 1145.5L1847.5 1152.5L1848.5 1158.7L1849.2 1157.4L1849.7 1156.0L1850.0 1155.0L1850.4 1152.4L1851.9 1143.0L1852.7 1138.9L1855.4 1127.2L1855.9 1124.2L1856.4 1120.2L1857.4 1108.9L1857.9 1104.2L1858.1 1102.9L1858.4 1102.0L1858.9 1101.1L1859.4 1105.0L1859.9 1110.6L1861.3 1136.4L1862.1 1144.3L1862.6 1147.5L1863.3 1144.1L1863.8 1141.3L1864.6 1135.9L1865.5 1126.5L1866.3 1117.4L1866.8 1109.4L1867.5 1091.6L1868.5 1054.9L1869.0 1040.1L1869.3 1035.8L1869.5 1033.2L1870.0 1030.5L1870.5 1035.6L1871.0 1045.2L1871.5 1063.2L1872.7 1117.6L1873.5 1141.8L1874.5 1168.8L1875.2 1185.6L1875.7 1193.9L1876.2 1199.8L1876.9 1205.7L1877.9 1195.0L1878.7 1182.5L1880.9 1131.6L1883.2 1087.7L1883.7 1075.9L1884.2 1060.9L1884.9 1026.7L1885.4 990.0L1886.4 879.8L1886.9 834.7L1887.2 822.0L1887.4 814.8L1887.7 811.0L1887.9 808.5L1888.4 826.7L1888.9 859.7L1889.4 919.4L1890.3 1065.4L1890.8 1118.9L1891.6 1171.5L1892.0 1194.4L1892.5 1211.9L1893.0 1210.3L1893.3 1209.1L1893.8 1205.4L1894.0 1202.8L1894.5 1196.0L1896.2 1166.2L1896.7 1159.3L1897.5 1150.8L1898.5 1142.2L1900.9 1125.4L1901.7 1118.3L1902.4 1107.0L1903.4 1083.6L1903.9 1074.1L1904.2 1071.3L1904.4 1069.6L1904.9 1067.7L1905.4 1070.7L1905.9 1076.6L1906.4 1087.9L1907.4 1115.8L1908.1 1130.5L1908.6 1137.2L1909.1 1142.3L1909.6 1146.0L1910.3 1150.0L1910.8 1149.0L1911.3 1147.7L1912.1 1144.8L1912.8 1140.6L1913.8 1134.0L1914.6 1128.4L1915.0 1123.7L1915.5 1117.7L1916.3 1107.1L1916.8 1101.5L1917.0 1099.8L1917.3 1098.7L1917.8 1097.4L1918.3 1099.0L1918.8 1102.3L1919.3 1108.3L1920.2 1123.1L1920.7 1129.0L1924.0 1161.1L1924.5 1165.1L1925.0 1167.9L1925.4 1169.8L1925.9 1171.1L1926.7 1168.5L1927.2 1165.8L1927.7 1161.9L1928.2 1156.9L1930.4 1129.3L1931.1 1117.2L1931.9 1102.6L1932.4 1095.0L1932.9 1090.8L1933.4 1088.7L1933.9 1089.5L1934.1 1090.4L1934.4 1091.9L1934.9 1097.1L1935.8 1109.9L1936.6 1115.9L1937.1 1118.3L1937.8 1120.8L1938.8 1123.1L1940.0 1125.3L1940.8 1114.5L1941.5 1097.9L1942.0 1080.8L1943.0 1031.4L1943.5 1011.1L1943.8 1005.1L1944.0 1001.3L1944.5 997.1L1945.0 1001.0L1945.2 1004.6L1945.5 1010.4L1946.0 1030.4L1947.0 1079.7L1947.5 1097.1L1948.0 1110.0L1951.9 1184.2L1952.7 1193.7L1953.2 1197.7L1953.7 1200.8L1954.4 1196.2L1955.1 1188.7L1955.6 1181.3L1957.6 1146.2L1958.6 1132.4L1960.3 1110.9L1960.8 1103.5L1961.3 1093.9L1961.8 1080.5L1962.3 1061.2L1963.3 1004.3L1963.8 981.4L1964.1 974.8L1964.3 971.0L1964.8 967.4L1965.3 970.8L1965.5 974.6L1965.8 981.0L1966.3 1003.8L1967.3 1060.3L1967.8 1079.4L1968.5 1097.6L1969.3 1109.1L1971.2 1131.9L1972.0 1141.4L1974.2 1175.5L1975.0 1183.5L1975.4 1187.0L1975.9 1189.6L1976.7 1182.1L1977.4 1170.8L1978.2 1153.6L1978.7 1138.6L1979.2 1120.4L1979.7 1097.8L1980.9 1027.0L1981.1 1016.7L1981.6 1004.5L1982.1 998.3L1982.6 999.0L1982.9 999.5L1983.4 1001.5L1984.6 1009.5L1985.3 1012.6L1985.8 1010.9L1986.8 1005.7L1987.3 1003.6L1987.8 1002.6L1988.3 1002.1L1988.8 1007.1L1989.1 1011.3L1989.3 1017.8L1989.8 1038.8L1990.5 1079.0L1991.0 1101.4L1991.5 1119.0L1992.3 1140.7L1993.8 1181.1L1994.5 1199.0L1995.2 1211.5L1995.7 1216.7L1996.2 1220.6L1996.7 1216.8L1997.2 1211.8L1998.0 1199.9L2000.0 1152.6L2001.7 1115.4L2002.2 1103.0L2002.7 1087.2L2003.2 1065.5L2004.2 1003.9L2004.7 979.0L2004.9 971.6L2005.1 967.2L2005.6 962.5L2006.1 966.8L2006.4 971.0L2006.6 978.1L2007.1 1002.5L2008.1 1062.8L2008.6 1083.8L2009.1 1098.7L2009.9 1114.9L2011.8 1151.0L2013.8 1193.2L2014.6 1203.9L2015.0 1208.5L2015.5 1211.9L2016.0 1209.1L2016.5 1202.9L2017.0 1190.4L2017.2 1181.5L2017.7 1187.9L2018.2 1193.1L2018.7 1196.6L2019.2 1198.5L2019.7 1199.5L2020.4 1191.3L2021.2 1179.9L2021.7 1169.8L2025.2 1085.5L2025.9 1059.7L2026.7 1017.8L2027.2 974.0L2027.9 889.2L2028.4 845.0L2028.7 832.4L2028.9 825.1L2029.4 818.4L2029.9 832.1L2030.4 859.7L2030.9 912.7L2032.1 1073.3L2033.1 1158.6L2033.8 1205.3L2034.3 1229.3L2035.1 1254.5L2035.8 1271.3L2036.5 1261.5L2037.0 1251.2L2037.5 1236.3L2038.0 1216.9L2039.0 1169.8L2039.8 1129.2L2041.2 1030.0L2041.7 1008.7L2042.0 1002.3L2042.5 993.4L2043.0 998.2L2043.2 1002.4L2043.5 1009.0L2044.0 1030.7L2045.0 1084.6L2045.7 1112.9L2046.7 1139.6L2047.9 1166.8L2048.4 1175.2L2048.9 1181.6L2049.4 1186.4L2049.9 1190.1L2050.9 1180.0L2051.7 1168.7L2054.9 1100.7L2055.4 1088.2L2055.9 1072.5L2056.4 1051.0L2056.9 1019.8L2057.9 927.0L2058.4 888.9L2058.7 877.9L2058.9 871.6L2059.4 865.6L2059.9 875.2L2060.1 883.2L2060.4 895.8L2060.9 937.1L2062.1 1063.1L2062.6 1098.1L2063.1 1125.8L2063.8 1158.9L2064.5 1183.8L2065.3 1201.0L2066.0 1213.1L2066.5 1210.8L2067.0 1207.3L2067.7 1197.8L2070.9 1133.6L2072.4 1100.3L2072.9 1093.0L2073.2 1090.8L2073.7 1087.5L2074.2 1087.9L2074.4 1088.3L2074.7 1088.9L2074.9 1089.9L2075.9 1095.1L2076.4 1097.2L2077.1 1099.2L2077.9 1100.5L2078.9 1099.4L2079.6 1098.2L2080.1 1097.1L2080.6 1095.6L2081.3 1091.9L2082.3 1085.4L2082.8 1083.4L2083.1 1083.0L2083.6 1082.5L2084.1 1084.1L2084.3 1085.6L2084.6 1087.8L2084.8 1091.1L2085.8 1109.7L2086.5 1120.4L2087.3 1127.4L2089.0 1139.8L2089.8 1145.9L2090.5 1153.4L2092.0 1170.9L2092.5 1175.5L2092.7 1177.4L2093.2 1180.0L2094.0 1182.2L2094.5 1179.6L2094.9 1176.3L2095.4 1171.8L2095.9 1165.9L2097.4 1145.0L2098.4 1133.1L2099.6 1121.4L2102.1 1102.3L2102.9 1095.9L2103.6 1087.9L2104.3 1076.5L2105.1 1057.5L2105.6 1036.5L2106.1 1005.4L2107.1 927.0L2107.3 913.6L2107.6 905.0L2107.8 900.4L2108.1 898.1L2108.3 896.8L2108.8 913.1L2109.3 941.3L2109.8 990.3L2110.8 1106.5L2111.5 1165.4L2112.0 1190.7L2112.5 1208.4L2113.0 1221.8L2113.3 1220.9L2113.8 1218.4L2114.3 1213.6L2114.8 1205.7L2115.5 1188.9L2116.2 1190.9L2117.0 1192.4L2117.5 1192.9L2118.2 1193.3L2119.0 1188.3L2119.4 1183.5L2119.9 1177.1L2120.4 1169.0L2123.3 1116.1L2123.8 1106.3L2124.3 1093.9L2125.1 1066.1L2126.0 1009.9L2126.5 987.6L2126.8 981.2L2127.0 977.3L2127.5 973.3" stroke="#fd3c3c" stroke-width="6"/>
<path d="M385.0 1132.4H2127.5" stroke="#036ee4" stroke-width="5.2"/>
<path d="M385.0 998.8L385.5 1007.8L386.0 1023.3L386.5 1050.1L387.4 1113.8L387.9 1136.7L388.7 1158.8L389.4 1172.3L390.1 1170.2L390.6 1167.9L390.9 1166.3L391.4 1162.4L393.1 1145.8L393.6 1141.9L394.4 1136.9L395.1 1132.9L395.8 1129.5L398.3 1119.8L399.1 1116.5L399.8 1112.4L400.5 1106.2L401.0 1100.0L401.3 1095.8L401.8 1084.3L402.8 1049.7L403.3 1035.8L403.5 1031.9L403.8 1029.8L404.0 1028.7L404.3 1028.0L404.8 1032.4L405.0 1036.0L405.2 1041.4L405.7 1058.8L407.0 1111.0L408.0 1138.5L408.7 1154.2L409.5 1166.3L410.2 1174.4L410.9 1179.7L411.7 1176.1L412.2 1172.2L412.7 1166.7L413.2 1159.5L414.4 1135.9L415.9 1099.9L416.4 1092.2L416.9 1087.8L417.1 1086.2L417.4 1086.9L417.6 1087.8L417.9 1089.2L418.1 1091.4L418.4 1094.6L419.4 1112.7L419.9 1120.0L420.6 1127.1L421.1 1130.3L421.6 1132.7L422.6 1128.1L423.3 1123.6L423.8 1119.5L424.3 1114.0L425.0 1100.8L426.0 1072.8L426.5 1061.4L426.8 1058.1L427.0 1056.1L427.5 1054.0L428.0 1058.5L428.5 1066.6L429.0 1081.2L429.8 1109.1L430.5 1133.1L432.2 1176.6L432.7 1186.5L433.2 1194.1L433.7 1199.4L434.5 1204.5L435.0 1199.9L435.5 1194.3L436.0 1186.7L436.5 1177.0L438.2 1136.6L439.7 1104.1L440.2 1091.7L440.7 1076.3L441.2 1055.3L441.7 1025.1L442.7 935.6L443.2 898.8L443.5 888.3L443.7 882.1L444.2 876.2L444.7 885.9L444.9 893.9L445.2 906.3L445.7 946.8L446.6 1049.0L447.4 1102.3L447.9 1126.7L448.3 1145.0L449.1 1164.5L449.8 1178.5L450.3 1177.4L450.5 1176.7L451.0 1174.5L451.3 1172.9L451.8 1168.9L453.8 1149.3L454.5 1143.8L455.2 1139.6L456.0 1136.3L457.0 1132.7L458.0 1129.6L460.4 1122.6L461.4 1119.4L462.2 1116.1L462.9 1111.3L463.4 1106.3L463.7 1103.0L464.2 1093.8L465.1 1066.3L465.6 1055.2L465.9 1052.1L466.1 1050.5L466.4 1049.6L466.6 1049.1L467.1 1054.6L467.6 1064.3L468.1 1081.3L469.1 1123.1L469.6 1140.0L470.1 1153.2L470.6 1163.3L471.1 1170.6L471.6 1175.8L472.1 1179.7L472.8 1175.6L473.6 1169.0L474.1 1162.6L474.8 1150.5L475.5 1136.4L476.3 1119.6L477.5 1080.9L478.0 1068.0L478.5 1061.2L479.0 1057.8L479.5 1061.1L480.0 1067.9L480.5 1080.8L481.7 1119.5L482.2 1130.7L482.7 1139.8L483.2 1147.3L484.0 1155.6L484.5 1159.5L485.2 1163.6L485.7 1162.1L486.2 1160.0L486.9 1155.3L487.7 1148.6L489.7 1128.3L490.4 1119.0L490.9 1110.5L491.9 1087.3L492.4 1078.0L492.6 1075.2L492.9 1073.4L493.4 1071.4L493.9 1073.7L494.1 1075.7L494.4 1078.7L494.9 1088.5L495.6 1107.3L496.1 1117.8L496.6 1126.0L497.3 1136.1L498.3 1147.9L499.1 1155.4L499.8 1160.8L500.3 1163.1L500.8 1164.9L501.3 1163.2L501.8 1160.9L502.5 1156.0L505.7 1125.0L506.5 1116.6L507.0 1109.1L507.5 1098.7L508.5 1068.9L509.0 1056.9L509.2 1053.4L509.5 1051.3L510.0 1049.1L510.4 1051.7L510.7 1054.0L510.9 1057.7L511.4 1070.1L512.4 1100.7L513.2 1115.8L513.9 1125.8L515.4 1141.7L516.4 1154.3L517.1 1166.2L518.6 1193.9L519.1 1201.3L519.4 1204.2L519.9 1208.4L520.6 1211.9L521.3 1201.1L521.8 1192.0L522.8 1166.5L525.0 1093.9L525.5 1074.8L526.0 1051.2L526.5 1019.4L527.0 974.0L528.0 842.3L528.5 789.1L528.8 773.8L529.0 764.9L529.5 756.1L530.0 772.4L530.2 785.6L530.5 805.7L531.0 870.0L532.0 1027.1L532.7 1106.5L533.5 1155.5L534.0 1177.5L534.7 1202.0L535.2 1198.0L535.7 1192.3L536.4 1177.9L537.2 1155.1L538.2 1116.2L538.7 1099.9L539.2 1088.9L539.7 1081.3L540.4 1091.8L540.9 1103.7L542.9 1173.0L543.6 1192.8L544.1 1202.2L544.6 1208.6L545.3 1214.4L546.1 1207.6L546.8 1197.3L547.3 1187.7L549.5 1137.3L552.4 1086.3L552.9 1075.5L553.4 1061.4L553.9 1041.9L554.4 1013.1L554.9 971.5L555.6 892.0L556.1 851.7L556.4 840.4L556.6 834.1L556.9 830.7L557.1 828.5L557.6 835.9L557.8 843.3L558.1 855.6L558.6 898.0L559.5 1005.0L560.0 1042.8L560.5 1069.8L561.3 1098.7L563.0 1153.1L565.2 1232.2L565.9 1250.1L566.4 1257.9L566.9 1263.9L567.9 1244.6L568.6 1222.3L571.1 1123.4L573.3 1052.9L574.1 1026.6L574.6 1004.8L575.1 976.1L575.8 908.6L576.3 835.2L577.3 614.1L577.8 524.6L578.1 499.6L578.3 485.6L578.6 478.5L578.8 474.0L579.3 489.8L579.5 505.9L579.8 533.2L580.3 627.5L581.3 860.3L581.8 940.6L582.3 997.5L583.3 1075.0L585.0 1177.4L586.0 1222.6L586.5 1239.1L587.2 1258.9L587.7 1253.4L588.2 1246.0L589.0 1228.6L591.0 1161.4L591.7 1139.5L593.5 1093.3L594.2 1067.2L594.7 1042.1L595.2 1006.2L596.2 900.3L596.7 857.0L597.0 844.5L597.2 837.1L597.7 830.0L598.2 840.7L598.4 849.7L598.7 863.9L599.2 910.8L600.1 1029.1L600.6 1073.5L601.1 1107.4L601.6 1134.3L602.3 1165.4L603.1 1187.4L604.1 1207.0L604.6 1204.9L605.0 1201.8L605.8 1193.2L609.8 1120.7L610.2 1113.7L610.7 1109.1L611.2 1106.0L612.2 1119.3L613.2 1137.1L614.0 1147.5L614.5 1145.2L615.0 1142.1L615.7 1134.9L616.2 1127.5L617.2 1107.3L617.7 1098.9L618.2 1094.0L618.7 1091.2L619.2 1093.4L619.7 1097.4L620.1 1104.9L620.9 1119.2L621.6 1131.2L622.4 1141.0L623.4 1152.5L623.9 1157.3L624.4 1161.0L624.9 1163.6L625.6 1166.1L626.1 1162.5L626.6 1157.8L627.3 1146.6L628.1 1128.5L629.1 1094.8L629.6 1080.8L630.0 1072.6L630.5 1067.7L631.0 1070.0L631.3 1072.0L631.5 1075.2L632.0 1085.6L633.0 1111.2L633.5 1120.7L634.0 1128.0L634.5 1133.6L635.0 1138.2L635.5 1141.7L636.2 1145.5L636.7 1147.5L637.5 1145.5L638.2 1142.1L638.7 1138.6L639.2 1134.0L640.2 1122.1L640.7 1117.2L641.2 1114.2L641.7 1112.2L642.2 1114.3L642.7 1117.5L644.2 1132.8L644.9 1137.6L645.4 1139.6L646.6 1135.1L647.9 1129.4L650.3 1116.8L651.1 1112.6L652.1 1105.6L652.8 1097.4L653.3 1089.0L653.6 1083.3L654.1 1067.8L655.0 1021.3L655.5 1002.5L655.8 997.3L656.0 994.5L656.3 993.0L656.5 992.2L657.0 1019.4L657.5 1055.1L659.0 1198.2L659.5 1228.5L660.2 1256.5L660.7 1251.1L661.2 1243.9L662.0 1227.0L665.9 1095.0L666.4 1072.6L666.9 1042.1L667.9 956.7L668.4 922.1L668.7 911.9L668.9 905.6L669.4 898.9L669.9 905.5L670.1 911.8L670.4 922.1L670.9 957.0L671.9 1043.2L672.4 1073.8L672.9 1096.1L673.6 1120.8L674.4 1139.5L674.9 1149.4L675.3 1157.5L676.3 1169.8L677.1 1168.2L677.6 1166.3L677.8 1165.0L678.3 1161.6L680.3 1145.3L681.0 1140.7L681.8 1137.1L682.8 1133.4L683.8 1130.4L685.0 1127.2L688.0 1120.3L689.2 1116.9L690.2 1113.2L690.9 1108.8L691.4 1104.4L691.7 1101.4L692.2 1093.2L692.7 1080.9L693.7 1049.8L693.9 1044.5L694.2 1041.1L694.4 1039.3L694.7 1038.4L694.9 1037.9L695.4 1040.8L695.6 1043.4L695.9 1047.7L696.4 1062.0L697.4 1097.3L698.1 1114.7L698.6 1122.5L699.4 1131.0L700.1 1136.9L701.1 1142.6L701.6 1141.9L702.1 1141.0L702.8 1138.8L703.6 1135.1L704.6 1128.9L705.0 1126.3L705.5 1124.5L706.0 1123.3L706.8 1126.0L707.5 1130.5L710.0 1151.7L710.7 1156.7L711.0 1157.9L711.5 1159.7L712.2 1161.2L713.0 1158.7L713.7 1154.9L714.5 1149.2L716.7 1128.8L717.4 1121.2L717.9 1114.7L718.4 1105.8L719.4 1080.8L719.9 1070.7L720.1 1067.7L720.4 1065.9L720.9 1063.9L721.4 1067.4L721.9 1074.0L722.4 1086.4L723.4 1115.9L723.9 1126.3L724.6 1136.3L725.3 1142.6L726.1 1140.6L726.6 1138.7L727.1 1136.1L727.6 1132.6L728.3 1125.2L729.3 1111.3L729.8 1105.7L730.3 1102.6L730.8 1101.1L731.5 1106.5L732.0 1112.8L734.0 1151.1L734.8 1163.5L735.2 1170.3L736.0 1177.5L736.5 1180.3L737.0 1182.2L737.7 1179.6L738.2 1176.7L738.5 1174.7L739.0 1169.8L740.4 1151.6L741.2 1143.6L742.2 1135.2L743.9 1122.3L744.7 1115.0L745.1 1108.0L745.6 1098.1L746.6 1069.4L747.1 1057.7L747.4 1054.3L747.6 1052.3L748.1 1050.3L748.6 1056.1L748.8 1060.2L749.3 1074.2L750.4 1135.2L751.4 1132.0L752.4 1127.9L753.1 1123.7L753.9 1117.7L754.4 1111.9L754.9 1103.5L755.8 1078.9L756.3 1069.0L756.6 1066.1L756.8 1064.4L757.3 1062.7L757.8 1068.7L758.1 1072.8L758.6 1085.6L760.3 1152.9L761.5 1191.1L762.0 1202.3L762.5 1210.3L763.0 1215.6L763.5 1219.3L764.3 1214.1L765.0 1205.0L765.5 1195.9L767.0 1162.8L767.7 1148.3L768.5 1136.0L770.2 1110.9L770.7 1102.3L771.2 1091.5L771.7 1076.6L772.2 1055.2L773.2 992.4L773.7 967.0L773.9 959.7L774.2 955.4L774.7 951.3L775.1 956.1L775.4 960.7L775.6 968.4L776.1 994.7L777.1 1059.8L777.6 1082.6L778.1 1099.2L779.1 1122.9L781.3 1168.1L781.8 1176.1L782.3 1182.4L782.8 1187.1L783.3 1190.9L783.8 1189.4L784.3 1187.0L785.0 1180.7L786.8 1157.4L787.5 1148.6L788.3 1141.4L789.8 1128.5L790.2 1123.3L790.7 1116.5L791.7 1098.1L792.2 1090.6L792.5 1088.3L792.7 1086.8L793.2 1085.0L793.7 1085.9L794.0 1086.7L794.2 1088.1L794.7 1092.7L795.7 1104.1L796.2 1108.0L796.9 1111.7L797.4 1113.4L798.2 1115.4L799.2 1113.4L799.9 1111.6L800.4 1110.0L800.9 1107.8L801.4 1104.8L801.9 1100.4L802.9 1087.4L803.4 1082.1L803.6 1080.6L803.9 1079.7L804.4 1078.8L804.9 1080.5L805.1 1082.1L805.3 1084.5L805.6 1088.1L806.8 1112.9L807.3 1120.3L807.8 1125.9L811.3 1157.2L812.0 1161.6L812.5 1163.5L813.0 1164.9L813.5 1162.9L814.0 1160.5L814.8 1155.0L815.7 1144.6L817.2 1126.5L818.0 1114.9L818.5 1104.3L819.5 1075.2L820.0 1063.5L820.2 1059.9L820.4 1057.7L820.9 1055.3L821.4 1059.6L821.9 1067.6L822.4 1082.1L823.4 1117.3L824.2 1135.4L824.9 1146.4L825.4 1151.2L825.9 1155.0L826.9 1150.8L827.4 1147.9L827.9 1144.4L831.3 1115.8L831.8 1111.0L832.3 1105.0L833.1 1091.5L833.6 1077.1L834.6 1034.4L835.0 1017.2L835.3 1012.3L835.5 1009.5L836.0 1007.0L836.5 1019.0L836.8 1027.1L837.3 1051.7L838.8 1161.4L839.5 1203.6L840.0 1224.4L840.5 1239.1L841.0 1249.2L841.5 1256.5L842.5 1237.7L843.2 1216.3L845.5 1129.2L848.0 1046.3L848.5 1025.6L849.0 998.9L849.7 937.4L850.2 871.0L851.2 670.9L851.7 589.3L852.0 566.3L852.2 553.3L852.5 546.5L852.7 542.1L853.2 563.5L853.4 581.5L853.7 609.7L854.2 702.2L855.1 934.7L855.9 1054.4L856.4 1108.6L856.9 1149.2L857.6 1192.7L858.3 1224.3L859.1 1219.5L859.6 1214.3L859.8 1210.8L860.3 1202.0L862.0 1164.5L862.8 1151.6L863.5 1141.2L864.3 1132.8L865.0 1125.7L868.0 1101.7L869.0 1092.8L869.7 1084.2L870.4 1071.9L871.2 1051.3L871.7 1028.6L872.2 995.0L873.2 909.9L873.4 895.5L873.7 886.1L873.9 881.1L874.2 878.6L874.4 877.1L874.9 890.7L875.4 916.4L875.9 963.7L876.9 1080.0L877.6 1143.0L878.1 1172.8L878.6 1194.8L879.1 1210.8L879.9 1228.0L880.3 1224.6L880.8 1219.7L881.3 1212.3L881.8 1201.8L884.6 1126.0L886.0 1071.5L886.5 1059.8L886.8 1056.3L887.3 1051.6L887.8 1055.8L888.3 1063.8L888.8 1078.5L890.0 1123.0L891.0 1147.6L891.7 1161.1L892.2 1167.6L892.7 1172.3L893.5 1177.2L894.2 1175.4L894.7 1173.2L895.0 1171.6L895.4 1167.6L897.4 1148.2L898.2 1142.8L898.9 1138.6L899.7 1135.3L900.6 1131.6L901.6 1128.5L903.9 1122.0L904.9 1118.7L905.6 1115.6L906.3 1111.1L907.1 1103.8L907.6 1095.7L908.1 1083.7L909.1 1053.4L909.3 1048.3L909.6 1044.9L909.8 1043.1L910.0 1042.2L910.3 1041.7L910.8 1046.6L911.0 1050.3L911.5 1062.9L913.0 1121.3L916.2 1216.4L916.7 1228.0L917.2 1236.4L917.7 1241.7L918.2 1245.3L919.2 1228.6L919.9 1209.5L922.4 1124.4L925.4 1042.6L926.1 1014.9L926.6 989.3L927.3 928.5L927.8 862.4L928.8 665.5L929.3 586.9L929.6 565.0L929.8 552.8L930.1 546.6L930.3 542.6L930.8 564.2L931.0 582.9L931.3 612.2L931.8 708.0L932.8 942.9L933.3 1029.8L933.8 1096.8L934.5 1174.2L935.3 1231.4L936.0 1270.8L936.8 1298.5L937.5 1288.7L938.3 1271.6L939.0 1244.7L940.5 1182.8L941.2 1157.4L942.2 1130.0L944.2 1082.6L944.7 1068.1L945.2 1049.8L945.9 1008.2L946.4 964.1L947.4 833.7L947.9 781.1L948.2 766.2L948.4 757.7L948.9 750.0L949.4 759.2L949.6 768.6L949.9 784.6L950.4 840.0L951.4 975.4L951.9 1021.7L952.4 1054.2L952.9 1078.5L953.4 1098.3L954.9 1147.3L955.9 1172.4L956.4 1181.8L957.1 1193.3L957.6 1189.7L958.1 1185.3L958.8 1175.8L961.0 1136.0L963.7 1095.9L964.2 1086.8L964.7 1075.1L965.5 1048.3L965.9 1019.6L966.9 935.8L967.4 902.6L967.7 893.3L967.9 888.0L968.4 883.4L968.9 899.4L969.4 926.8L969.8 974.4L970.8 1090.3L971.3 1132.8L972.0 1174.1L972.7 1199.5L973.2 1195.2L973.7 1189.7L974.4 1178.0L975.4 1155.7L976.9 1115.9L977.6 1089.5L978.1 1065.0L979.1 997.9L979.6 971.0L979.9 963.0L980.1 958.0L980.6 952.5L981.1 962.2L981.6 980.3L982.1 1013.6L983.3 1113.7L984.1 1158.9L984.8 1197.5L985.6 1229.5L986.1 1245.3L986.6 1256.5L987.3 1267.6L988.3 1244.0L988.8 1227.7L989.3 1207.4L991.1 1124.7L993.1 1036.9L993.6 1010.4L994.1 977.1L994.8 901.3L995.3 820.2L996.3 576.6L996.8 477.1L997.1 448.9L997.3 433.0L997.6 424.5L997.8 418.9L998.3 443.8L998.5 465.2L998.8 498.7L999.3 609.4L1000.2 888.1L1000.7 991.2L1001.2 1067.7L1001.7 1125.6L1002.2 1169.9L1002.9 1218.4L1003.7 1254.0L1004.2 1251.4L1004.4 1249.6L1004.9 1244.0L1005.1 1240.0L1005.6 1229.5L1007.4 1184.0L1007.9 1173.4L1008.6 1160.3L1009.6 1147.2L1012.1 1121.1L1012.8 1110.0L1013.6 1092.2L1014.8 1047.2L1015.0 1040.6L1015.3 1036.2L1015.5 1033.5L1016.0 1030.5L1016.5 1033.4L1016.8 1036.0L1017.3 1047.0L1018.5 1092.6L1019.3 1111.0L1019.8 1119.5L1020.5 1129.7L1021.5 1141.6L1022.2 1149.2L1023.0 1154.9L1024.0 1159.9L1024.7 1147.7L1025.9 1116.1L1026.9 1096.1L1027.9 1117.1L1029.2 1150.6L1029.7 1159.8L1030.1 1166.1L1031.1 1160.9L1031.6 1157.2L1032.1 1152.4L1035.1 1118.2L1035.6 1111.7L1036.1 1103.7L1036.6 1092.8L1037.1 1077.2L1038.1 1031.7L1038.6 1013.4L1038.8 1008.1L1039.1 1005.0L1039.6 1002.1L1040.0 1007.6L1040.3 1012.0L1040.5 1018.8L1041.0 1040.5L1042.3 1105.7L1043.0 1133.0L1043.8 1155.6L1044.5 1175.9L1045.2 1192.2L1046.0 1202.8L1046.7 1209.4L1047.5 1203.6L1048.2 1194.5L1048.7 1185.9L1050.2 1154.6L1050.9 1140.7L1051.9 1125.3L1054.1 1095.2L1054.8 1082.1L1055.3 1070.2L1056.1 1042.4L1056.5 1012.4L1057.5 924.3L1058.0 889.4L1058.3 879.6L1058.5 874.1L1058.8 871.2L1059.0 869.4L1059.5 876.2L1059.7 882.8L1060.0 893.6L1060.5 930.6L1061.2 1003.5L1061.7 1043.1L1062.2 1072.1L1062.7 1093.7L1063.6 1126.8L1065.3 1176.1L1065.8 1187.2L1066.3 1195.9L1067.3 1208.2L1068.0 1204.3L1068.5 1200.0L1068.8 1197.1L1069.3 1189.8L1071.0 1158.8L1071.5 1151.3L1072.2 1142.1L1073.0 1134.6L1073.7 1128.2L1076.2 1110.3L1076.9 1104.3L1077.7 1096.7L1078.4 1085.5L1078.9 1074.1L1079.1 1066.4L1079.6 1045.5L1080.6 982.9L1081.1 957.8L1081.4 950.9L1081.6 947.0L1081.9 945.1L1082.1 943.9L1082.6 951.8L1082.8 958.4L1083.1 968.3L1083.6 1000.1L1084.8 1095.0L1085.8 1145.0L1086.6 1173.8L1087.3 1196.1L1088.1 1210.9L1088.8 1220.6L1089.3 1217.0L1089.8 1212.1L1090.5 1200.3L1093.3 1133.0L1094.0 1112.1L1094.5 1094.1L1095.5 1046.7L1096.0 1027.6L1096.2 1021.7L1096.5 1017.8L1097.0 1013.2L1097.5 1015.9L1097.7 1018.7L1098.0 1023.5L1098.5 1040.2L1099.5 1081.6L1100.0 1095.8L1100.4 1105.7L1100.9 1112.9L1101.4 1118.6L1103.2 1134.9L1103.9 1140.8L1104.4 1144.0L1104.9 1146.7L1105.6 1150.0L1106.1 1147.7L1106.6 1144.3L1108.6 1123.3L1109.4 1128.7L1110.6 1139.1L1111.1 1142.2L1111.6 1144.3L1111.8 1145.1L1112.6 1137.1L1113.3 1125.4L1114.1 1106.1L1114.6 1086.7L1115.5 1039.7L1115.8 1031.3L1116.0 1025.3L1116.3 1021.5L1116.8 1016.9L1117.3 1024.2L1117.8 1037.2L1118.3 1060.3L1119.5 1129.8L1120.5 1169.6L1121.0 1184.5L1121.5 1195.8L1122.0 1203.8L1122.8 1211.9L1123.3 1208.8L1123.8 1204.6L1124.5 1194.4L1126.5 1153.3L1128.7 1112.0L1129.2 1099.4L1129.7 1082.4L1130.7 1034.6L1131.2 1015.2L1131.4 1009.5L1131.7 1005.9L1132.2 1002.1L1132.7 1007.1L1132.9 1011.3L1133.2 1017.9L1133.7 1039.4L1134.7 1091.6L1135.1 1110.0L1135.9 1128.1L1136.4 1136.2L1137.1 1145.1L1137.9 1144.2L1138.4 1143.3L1138.9 1142.0L1139.4 1140.2L1140.3 1136.1L1141.3 1131.5L1142.8 1122.8L1143.3 1121.0L1143.6 1120.4L1144.1 1119.6L1146.0 1142.8L1146.5 1147.1L1147.0 1150.0L1147.8 1149.4L1148.3 1148.7L1148.5 1148.1L1149.0 1146.7L1150.7 1140.7L1151.5 1141.7L1152.0 1142.1L1152.5 1142.4L1153.2 1142.6L1154.2 1132.1L1155.2 1120.2L1156.2 1106.8L1157.2 1091.9L1157.9 1078.8L1158.4 1068.0L1159.2 1045.7L1159.7 1023.1L1159.9 1008.0L1160.4 966.8L1161.4 842.8L1161.9 792.6L1162.2 778.5L1162.4 770.6L1162.7 766.6L1162.9 764.0L1163.4 782.6L1163.9 818.3L1164.4 884.6L1165.4 1047.8L1166.1 1133.4L1166.8 1187.1L1167.3 1210.9L1168.1 1236.7L1168.8 1230.1L1169.5 1219.0L1170.3 1201.8L1171.8 1162.4L1172.5 1146.1L1173.5 1128.6L1176.0 1092.1L1176.7 1077.8L1177.2 1064.7L1177.9 1034.4L1178.4 1001.6L1179.4 904.4L1179.9 865.4L1180.2 854.5L1180.4 848.4L1180.7 845.1L1180.9 843.0L1181.4 854.9L1181.6 864.8L1181.9 880.0L1182.4 929.0L1183.4 1048.7L1184.1 1110.6L1184.6 1139.5L1185.1 1161.4L1185.9 1184.6L1186.6 1200.8L1187.4 1197.1L1187.9 1193.2L1188.1 1190.6L1188.6 1184.0L1190.3 1155.9L1191.1 1146.2L1191.8 1138.4L1192.6 1132.0L1193.6 1125.0L1196.5 1107.3L1197.5 1100.8L1198.5 1092.3L1199.2 1082.6L1199.7 1072.7L1200.0 1066.2L1200.5 1048.0L1201.0 1021.0L1202.0 952.8L1202.2 941.2L1202.5 933.8L1202.7 929.8L1203.0 927.9L1203.2 926.8L1203.7 941.2L1204.2 966.1L1204.7 1009.0L1205.7 1109.2L1206.2 1144.7L1206.7 1169.5L1207.2 1186.7L1207.7 1199.5L1207.9 1198.8L1208.4 1197.0L1208.7 1195.6L1209.2 1191.3L1209.4 1188.4L1211.6 1154.2L1213.1 1136.6L1214.1 1127.5L1214.6 1124.4L1215.1 1122.1L1215.8 1126.2L1216.3 1130.2L1217.6 1143.6L1218.3 1150.3L1219.1 1154.7L1219.6 1156.3L1220.0 1157.4L1221.0 1142.1L1222.0 1123.7L1223.3 1096.5L1224.3 1072.0L1225.0 1049.4L1225.5 1029.9L1226.0 1003.5L1226.5 965.3L1227.0 908.5L1228.0 737.4L1228.5 667.8L1228.8 648.2L1229.0 637.2L1229.3 631.4L1229.5 627.6L1230.0 649.7L1230.5 694.1L1231.0 779.5L1232.0 991.8L1232.7 1103.0L1233.2 1153.8L1233.7 1191.3L1234.2 1219.2L1234.9 1250.3L1235.4 1248.6L1235.6 1247.3L1236.1 1242.7L1236.4 1239.3L1236.9 1230.0L1238.1 1200.4L1238.9 1184.6L1239.6 1172.4L1240.6 1160.8L1241.6 1152.7L1242.6 1146.7L1244.1 1139.6L1247.3 1127.0L1248.3 1122.7L1249.3 1117.1L1250.0 1110.4L1250.5 1103.6L1251.0 1093.5L1252.0 1063.5L1252.5 1051.4L1252.7 1048.0L1253.0 1046.0L1253.5 1044.1L1254.0 1053.2L1254.2 1059.3L1254.7 1077.5L1256.2 1158.1L1256.9 1189.7L1257.4 1205.3L1257.9 1216.4L1258.4 1223.9L1258.9 1229.2L1259.7 1213.6L1260.2 1200.7L1261.2 1165.8L1263.4 1066.8L1263.9 1039.8L1264.4 1006.0L1264.9 959.5L1265.4 892.5L1266.4 693.6L1266.9 612.0L1267.2 588.6L1267.4 575.0L1267.9 562.2L1268.4 590.8L1268.9 644.7L1269.4 745.0L1270.3 991.7L1270.8 1081.4L1271.6 1169.5L1272.0 1208.1L1272.5 1237.9L1273.3 1233.0L1273.8 1227.3L1274.0 1223.4L1274.5 1213.5L1276.0 1176.5L1276.7 1160.6L1277.5 1147.6L1279.5 1119.8L1280.2 1106.9L1280.7 1095.1L1281.2 1078.4L1282.2 1030.5L1282.7 1011.1L1282.9 1005.4L1283.2 1002.0L1283.7 998.3L1284.2 1002.4L1284.4 1006.1L1284.7 1012.2L1285.1 1032.5L1286.1 1082.6L1286.6 1100.1L1287.4 1117.3L1287.9 1125.0L1288.6 1133.6L1289.4 1140.1L1289.6 1138.4L1290.1 1134.1L1290.6 1127.9L1291.8 1105.0L1292.3 1098.6L1292.6 1096.5L1293.1 1093.6L1293.6 1095.1L1293.8 1096.4L1294.1 1098.3L1294.3 1101.0L1295.3 1116.0L1296.1 1124.7L1296.8 1130.5L1298.8 1143.2L1299.8 1151.7L1300.5 1160.0L1302.0 1179.8L1302.5 1185.1L1302.8 1187.1L1303.3 1189.9L1303.5 1190.8L1304.0 1192.1L1304.7 1177.5L1305.5 1159.8L1306.7 1121.4L1308.4 1056.9L1308.9 1033.8L1309.4 1004.7L1310.2 939.1L1310.6 869.8L1311.6 667.1L1312.1 586.4L1312.4 563.5L1312.6 550.4L1313.1 538.5L1313.6 567.5L1313.8 589.4L1314.3 665.2L1315.5 973.9L1316.0 1068.2L1316.7 1161.4L1317.1 1202.5L1317.6 1234.2L1318.1 1230.3L1318.6 1224.8L1319.1 1216.5L1319.6 1204.8L1320.3 1182.8L1321.6 1141.7L1323.3 1071.9L1323.8 1058.8L1324.1 1054.8L1324.6 1049.1L1325.0 1053.2L1325.5 1061.2L1326.0 1076.1L1327.3 1121.1L1328.3 1145.6L1329.0 1158.8L1329.5 1165.2L1330.0 1169.8L1330.7 1174.8L1331.5 1172.6L1332.0 1170.2L1332.2 1168.6L1332.7 1164.5L1334.5 1147.2L1335.2 1141.2L1335.9 1136.5L1336.7 1132.6L1337.7 1128.3L1340.9 1116.8L1341.9 1112.7L1342.6 1108.7L1343.4 1103.0L1344.1 1093.3L1344.6 1082.5L1345.1 1066.6L1346.1 1026.2L1346.3 1019.3L1346.6 1014.9L1346.8 1012.5L1347.1 1011.4L1347.3 1010.7L1347.8 1014.6L1348.1 1018.1L1348.3 1023.7L1348.8 1042.1L1349.8 1087.8L1350.3 1104.3L1350.8 1116.8L1354.5 1192.0L1355.2 1202.1L1355.7 1206.4L1356.2 1209.4L1357.2 1196.6L1357.7 1187.7L1358.2 1176.7L1359.9 1131.2L1362.4 1072.1L1362.8 1057.1L1363.3 1037.8L1363.8 1011.1L1364.3 972.1L1364.8 915.6L1365.5 808.1L1366.0 753.6L1366.3 738.4L1366.5 729.7L1367.0 722.0L1367.5 741.5L1368.0 778.6L1368.5 848.4L1369.4 1024.3L1370.1 1117.2L1370.9 1175.1L1371.4 1200.9L1372.1 1229.2L1372.6 1226.1L1373.1 1221.5L1373.6 1214.3L1374.1 1204.3L1377.3 1124.4L1377.8 1109.7L1378.8 1072.6L1379.3 1057.6L1379.8 1049.6L1380.2 1045.4L1380.7 1061.5L1381.2 1082.0L1382.5 1150.8L1383.0 1170.8L1383.5 1184.7L1384.2 1176.6L1385.0 1164.1L1385.7 1144.0L1386.4 1114.0L1387.4 1060.1L1387.9 1038.3L1388.4 1026.1L1388.9 1019.4L1389.4 1024.5L1389.9 1034.8L1390.4 1054.4L1391.4 1102.9L1391.9 1121.4L1392.4 1135.5L1392.9 1146.4L1393.4 1154.6L1393.9 1160.6L1394.6 1167.3L1395.1 1164.9L1395.6 1161.7L1396.3 1155.1L1397.1 1145.8L1398.1 1130.9L1398.8 1117.4L1399.3 1105.7L1399.8 1090.2L1400.5 1061.9L1401.0 1047.1L1401.3 1042.7L1401.5 1039.9L1402.0 1036.7L1402.5 1041.1L1403.0 1049.6L1403.3 1056.6L1404.3 1096.0L1405.0 1120.1L1407.2 1172.7L1409.5 1239.5L1410.2 1253.9L1410.7 1259.2L1411.2 1262.6L1412.2 1235.8L1412.9 1208.0L1415.1 1099.3L1416.8 1020.8L1417.8 967.1L1418.5 908.1L1419.0 848.7L1419.5 761.1L1420.0 633.6L1420.7 390.1L1421.2 266.7L1421.5 232.4L1421.7 213.2L1422.0 203.1L1422.2 196.6L1422.7 234.5L1423.2 311.6L1423.7 461.8L1424.6 841.8L1425.3 1037.9L1426.1 1158.3L1426.6 1212.8L1427.3 1273.8L1427.8 1271.0L1428.0 1269.0L1428.5 1262.7L1428.8 1258.1L1429.3 1246.2L1431.0 1194.3L1431.7 1176.9L1432.5 1163.6L1433.2 1153.2L1434.0 1144.8L1434.7 1137.6L1436.7 1120.7L1437.4 1113.5L1438.2 1104.4L1438.7 1095.9L1439.2 1083.8L1439.7 1066.1L1440.6 1013.8L1441.1 992.6L1441.4 986.6L1441.6 983.1L1442.1 979.8L1442.6 986.6L1443.1 1000.3L1443.6 1026.7L1444.6 1090.7L1445.1 1113.7L1445.8 1136.5L1446.3 1146.5L1446.8 1154.2L1447.1 1157.4L1447.8 1147.1L1448.3 1136.4L1449.3 1110.9L1449.8 1101.3L1450.3 1093.6L1450.8 1097.0L1451.0 1099.2L1451.5 1106.2L1453.5 1148.2L1454.5 1166.9L1455.2 1178.9L1456.0 1186.9L1456.2 1188.6L1456.7 1191.1L1457.0 1192.1L1457.5 1187.9L1458.0 1182.8L1458.5 1176.1L1459.2 1162.6L1461.5 1113.8L1462.2 1093.8L1462.7 1075.7L1463.2 1050.4L1464.2 977.4L1464.7 947.5L1465.0 938.8L1465.2 933.6L1465.7 928.4L1466.2 938.9L1466.7 958.7L1467.2 995.3L1468.1 1085.4L1468.9 1131.8L1469.6 1159.9L1470.1 1172.4L1470.6 1182.2L1471.3 1179.0L1472.1 1173.6L1472.6 1168.3L1474.3 1146.3L1475.3 1136.2L1476.6 1126.8L1478.8 1112.9L1479.5 1107.8L1480.3 1101.4L1481.0 1091.9L1481.5 1082.2L1481.8 1075.7L1482.3 1057.9L1483.3 1003.8L1483.8 982.0L1484.0 975.9L1484.3 972.6L1484.5 970.9L1484.8 969.9L1485.2 975.5L1485.5 980.3L1485.7 988.0L1486.2 1013.5L1487.2 1076.7L1487.7 1100.1L1488.5 1125.9L1489.2 1145.9L1490.0 1161.9L1490.7 1173.5L1491.7 1183.4L1492.4 1177.5L1493.2 1169.4L1495.4 1133.7L1496.2 1123.2L1496.9 1114.2L1498.4 1099.0L1501.9 1067.5L1503.4 1051.4L1504.4 1036.5L1505.2 1019.6L1505.7 1002.5L1505.9 991.1L1506.4 959.5L1506.7 937.6L1507.2 878.0L1507.9 759.1L1508.4 697.7L1508.7 681.0L1508.9 672.2L1509.2 668.3L1509.4 666.2L1509.9 685.4L1510.4 724.0L1510.9 798.8L1512.1 1030.9L1512.5 1098.2L1513.0 1152.5L1513.5 1197.5L1514.2 1249.6L1515.0 1284.5L1515.7 1308.4L1516.4 1298.9L1516.9 1288.6L1517.2 1281.7L1517.7 1264.3L1519.1 1199.7L1519.9 1171.3L1520.6 1147.5L1522.3 1098.5L1523.1 1071.4L1523.6 1045.8L1524.0 1009.6L1525.0 906.2L1525.5 864.8L1525.8 852.8L1526.0 845.6L1526.5 838.4L1527.0 851.2L1527.5 876.1L1527.9 923.8L1528.9 1045.2L1529.6 1108.1L1530.3 1146.3L1530.8 1163.6L1531.3 1177.2L1532.0 1174.0L1532.5 1170.7L1533.0 1166.0L1533.8 1156.6L1535.2 1134.4L1536.0 1121.3L1537.2 1090.8L1537.7 1080.6L1538.2 1075.3L1538.7 1072.6L1539.2 1085.0L1539.7 1101.1L1541.2 1164.2L1541.7 1177.5L1542.4 1189.6L1543.2 1184.7L1543.9 1177.3L1544.4 1170.5L1546.2 1142.4L1547.4 1126.6L1548.6 1114.4L1551.9 1087.2L1552.6 1079.6L1553.1 1073.5L1553.9 1061.2L1554.4 1049.1L1554.9 1031.3L1555.1 1019.2L1555.6 985.7L1556.6 883.2L1557.1 841.7L1557.4 830.3L1557.6 824.2L1557.9 821.4L1558.1 819.8L1558.6 833.9L1559.1 861.7L1559.6 914.7L1560.5 1047.5L1561.3 1118.2L1561.8 1150.6L1562.2 1174.5L1562.7 1192.3L1563.5 1211.9L1564.2 1207.6L1564.7 1202.9L1565.0 1199.8L1565.4 1191.9L1566.9 1162.6L1567.7 1149.8L1568.4 1139.2L1570.1 1117.6L1570.9 1105.7L1571.4 1094.4L1571.9 1078.5L1572.9 1032.6L1573.4 1014.0L1573.6 1008.6L1573.9 1005.3L1574.4 1002.1L1574.9 1006.2L1575.1 1009.9L1575.3 1015.9L1575.8 1035.8L1576.8 1085.1L1577.3 1103.1L1578.1 1122.7L1579.1 1142.6L1580.0 1158.8L1580.8 1167.4L1581.8 1174.8L1582.5 1172.5L1583.0 1170.1L1583.3 1168.4L1583.8 1164.1L1585.7 1143.6L1588.2 1123.7L1588.7 1118.3L1589.2 1110.9L1590.2 1090.4L1590.7 1082.0L1590.9 1079.6L1591.2 1078.0L1591.7 1076.3L1592.2 1078.2L1592.4 1079.8L1592.7 1082.4L1593.2 1091.0L1594.2 1112.4L1594.7 1120.2L1595.4 1128.9L1596.4 1137.9L1597.4 1145.3L1598.1 1149.2L1598.6 1151.0L1599.1 1152.5L1599.9 1151.1L1600.3 1149.7L1600.8 1147.6L1601.3 1144.9L1602.3 1138.4L1603.3 1131.0L1604.8 1117.3L1605.3 1114.3L1605.8 1112.8L1606.0 1112.2L1606.3 1112.9L1606.8 1114.8L1607.0 1116.3L1607.5 1120.6L1608.5 1131.0L1609.3 1136.6L1610.0 1140.0L1610.5 1141.5L1611.0 1142.6L1611.7 1140.6L1612.5 1137.1L1613.0 1133.5L1614.5 1119.2L1615.0 1116.5L1615.4 1114.7L1616.2 1123.3L1616.7 1131.4L1617.9 1158.6L1618.7 1172.6L1619.4 1181.5L1619.9 1184.9L1620.4 1187.2L1621.1 1178.2L1621.6 1170.9L1622.6 1151.5L1625.3 1086.3L1625.8 1071.9L1626.3 1054.0L1627.0 1013.6L1627.5 971.0L1628.5 846.0L1629.0 796.1L1629.3 781.9L1629.5 773.9L1630.0 766.5L1630.5 776.4L1630.7 786.0L1631.0 802.0L1631.5 856.3L1632.5 989.3L1633.0 1035.9L1633.5 1069.9L1634.5 1119.4L1636.2 1190.4L1636.7 1206.4L1637.2 1219.0L1638.2 1236.7L1638.7 1232.6L1639.2 1227.0L1640.0 1213.4L1643.4 1118.2L1643.9 1101.9L1644.4 1081.0L1645.4 1024.3L1645.9 1001.3L1646.1 994.3L1646.4 989.9L1646.9 984.7L1647.3 994.3L1647.8 1010.1L1648.3 1037.3L1649.0 1089.1L1649.5 1117.8L1649.9 1138.7L1650.4 1153.7L1651.1 1151.0L1651.6 1147.9L1651.9 1145.8L1653.4 1128.1L1653.9 1123.4L1654.4 1119.6L1654.9 1122.6L1655.3 1126.5L1656.8 1142.6L1657.6 1147.8L1658.1 1149.9L1658.6 1151.3L1659.3 1148.2L1659.8 1145.5L1660.3 1142.1L1661.0 1135.5L1661.8 1127.1L1662.3 1120.1L1663.0 1105.5L1664.0 1077.2L1664.5 1065.7L1664.8 1062.3L1665.0 1060.1L1665.5 1057.8L1666.0 1061.9L1666.5 1069.5L1667.0 1083.4L1667.7 1110.0L1668.5 1132.4L1669.2 1149.5L1670.0 1162.7L1670.7 1171.7L1671.2 1175.5L1671.7 1178.5L1672.7 1170.7L1673.4 1162.2L1675.4 1132.2L1676.4 1119.4L1677.4 1108.5L1679.9 1084.0L1680.8 1072.5L1681.6 1061.2L1682.3 1044.6L1682.8 1027.7L1683.1 1016.3L1683.6 984.9L1684.1 938.0L1685.1 819.1L1685.3 798.8L1685.6 785.9L1685.8 778.9L1686.1 775.6L1686.3 773.8L1686.8 790.0L1687.3 822.4L1687.8 884.4L1688.8 1037.9L1689.3 1096.4L1689.8 1141.1L1690.3 1175.3L1690.7 1201.2L1691.2 1220.4L1692.0 1241.6L1692.5 1237.2L1693.0 1230.9L1693.5 1221.4L1694.0 1208.2L1694.7 1183.3L1695.7 1145.1L1697.4 1063.5L1697.9 1048.1L1698.2 1043.4L1698.7 1036.7L1699.2 1042.6L1699.7 1053.1L1700.1 1071.8L1701.1 1117.6L1701.9 1142.3L1702.6 1158.2L1703.1 1165.1L1703.9 1172.3L1704.4 1170.9L1704.9 1168.9L1705.3 1165.8L1705.8 1161.4L1707.6 1140.7L1709.3 1117.7L1709.6 1115.2L1710.0 1111.9L1710.5 1109.7L1711.0 1110.2L1711.3 1110.7L1711.8 1112.3L1712.8 1117.8L1713.3 1120.1L1713.8 1121.7L1714.3 1122.8L1715.0 1120.4L1715.5 1118.3L1716.2 1113.6L1716.7 1108.8L1717.7 1094.6L1718.2 1088.9L1718.5 1087.2L1718.7 1086.1L1719.2 1085.0L1719.7 1087.4L1720.2 1092.0L1720.7 1100.4L1721.9 1126.1L1722.7 1137.6L1723.7 1150.7L1724.4 1158.9L1724.9 1162.9L1725.4 1165.8L1726.1 1168.6L1726.9 1165.9L1727.6 1161.7L1728.1 1157.6L1729.9 1140.9L1731.1 1131.6L1731.8 1127.2L1732.6 1123.3L1735.3 1110.9L1736.3 1105.9L1737.3 1099.2L1738.0 1091.5L1738.5 1083.6L1738.8 1078.4L1739.3 1063.8L1739.8 1042.1L1740.7 987.1L1741.0 977.7L1741.2 971.8L1741.5 968.6L1741.7 967.0L1742.0 966.2L1742.5 970.6L1742.7 974.9L1743.0 982.0L1743.5 1006.2L1744.5 1066.1L1745.0 1087.1L1745.4 1102.4L1746.2 1119.5L1748.9 1173.6L1749.4 1181.7L1749.9 1187.8L1750.4 1192.3L1750.9 1195.8L1751.4 1191.7L1751.9 1186.6L1752.6 1175.4L1753.6 1154.3L1755.1 1116.9L1755.8 1092.2L1756.3 1069.2L1757.3 1005.7L1757.8 980.0L1758.1 972.4L1758.3 967.6L1758.8 962.5L1759.3 975.0L1759.8 996.2L1760.3 1032.4L1761.3 1119.9L1762.0 1166.6L1762.8 1195.4L1763.3 1207.6L1763.8 1216.9L1764.3 1213.4L1764.8 1208.7L1765.5 1197.6L1767.5 1153.5L1769.5 1116.4L1770.2 1100.2L1770.7 1085.3L1771.2 1064.4L1772.2 1004.7L1772.7 980.6L1772.9 973.5L1773.2 969.3L1773.7 964.9L1774.2 969.9L1774.4 974.6L1774.7 982.0L1775.1 1007.2L1776.1 1069.6L1776.6 1092.1L1777.1 1108.9L1778.1 1134.1L1779.1 1154.1L1779.6 1162.0L1780.1 1168.3L1781.1 1177.2L1781.6 1175.9L1782.1 1173.9L1782.8 1168.8L1785.0 1145.1L1787.3 1126.0L1788.0 1117.0L1789.3 1095.8L1789.5 1092.7L1789.8 1090.5L1790.0 1089.1L1790.5 1087.5L1791.2 1096.0L1791.7 1105.5L1793.0 1135.5L1793.5 1143.3L1794.0 1148.8L1795.0 1145.9L1795.4 1143.9L1795.9 1141.4L1798.2 1127.1L1799.2 1119.0L1799.7 1113.2L1800.1 1105.1L1801.1 1081.8L1801.6 1072.4L1801.9 1069.7L1802.1 1068.0L1802.6 1066.4L1803.1 1070.0L1803.6 1076.7L1804.1 1089.0L1805.1 1119.4L1805.6 1131.4L1806.3 1144.9L1807.1 1154.0L1807.6 1158.1L1808.3 1162.4L1808.8 1161.0L1809.1 1160.0L1809.6 1156.7L1810.0 1151.3L1811.0 1135.7L1812.3 1154.7L1813.0 1164.3L1813.3 1166.6L1813.8 1169.8L1814.0 1170.8L1814.5 1172.3L1815.3 1165.5L1815.8 1160.0L1816.3 1153.2L1817.0 1141.0L1819.5 1095.3L1820.0 1083.6L1820.5 1068.5L1821.0 1047.3L1821.5 1016.2L1822.5 923.3L1823.0 885.1L1823.3 874.2L1823.5 868.0L1824.0 862.4L1824.5 873.3L1824.7 882.2L1825.0 895.8L1825.5 939.6L1826.4 1050.6L1826.9 1093.4L1827.4 1126.9L1827.9 1153.6L1828.6 1183.8L1829.4 1204.0L1830.1 1218.1L1830.6 1215.9L1830.8 1214.4L1831.3 1210.0L1831.6 1207.0L1832.1 1199.1L1833.8 1165.3L1834.6 1153.7L1835.6 1141.8L1837.6 1122.6L1838.3 1113.5L1838.8 1105.0L1839.3 1092.9L1840.3 1057.9L1840.8 1043.6L1841.0 1039.4L1841.3 1036.9L1841.8 1034.2L1842.3 1037.4L1842.5 1040.3L1842.8 1044.9L1843.3 1060.0L1844.3 1097.6L1844.8 1111.4L1845.2 1121.8L1846.0 1133.6L1846.7 1142.6L1847.5 1149.1L1848.5 1155.0L1849.2 1153.8L1849.7 1152.5L1850.0 1151.6L1850.4 1149.4L1851.9 1141.0L1852.7 1137.4L1853.4 1134.4L1854.9 1128.9L1855.4 1126.7L1855.9 1123.8L1856.4 1119.9L1857.4 1108.7L1857.9 1104.1L1858.1 1102.8L1858.4 1101.9L1858.9 1101.1L1859.4 1104.6L1859.9 1109.7L1861.3 1134.3L1862.1 1141.9L1862.6 1145.1L1863.3 1141.9L1863.8 1139.3L1864.6 1134.4L1865.5 1125.9L1866.3 1117.6L1866.8 1110.3L1867.5 1093.7L1868.5 1059.5L1869.0 1045.6L1869.3 1041.6L1869.5 1039.2L1870.0 1036.7L1870.5 1041.6L1871.0 1050.8L1871.5 1068.0L1872.7 1119.9L1873.5 1143.2L1874.5 1169.6L1875.2 1186.1L1875.7 1194.3L1876.2 1200.0L1876.9 1205.7L1877.4 1201.0L1877.9 1195.3L1878.7 1183.1L1880.9 1132.9L1883.2 1090.1L1883.7 1078.7L1884.2 1064.2L1884.9 1031.3L1885.4 996.0L1886.4 890.2L1886.9 846.9L1887.2 834.7L1887.4 827.8L1887.7 824.1L1887.9 821.6L1888.4 837.6L1888.9 867.4L1889.4 922.5L1890.3 1058.0L1890.8 1107.3L1891.6 1155.8L1892.0 1177.0L1892.5 1193.3L1893.0 1191.9L1893.3 1191.0L1893.8 1188.1L1894.0 1186.0L1894.5 1180.6L1896.2 1157.3L1896.7 1151.8L1897.5 1145.1L1898.5 1138.2L1900.7 1125.5L1901.2 1122.0L1901.7 1117.4L1902.4 1106.9L1903.4 1084.9L1903.9 1076.0L1904.2 1073.4L1904.4 1071.8L1904.9 1070.1L1905.4 1072.9L1905.9 1078.5L1906.4 1089.2L1907.4 1115.5L1908.1 1129.3L1908.6 1135.6L1909.1 1140.3L1909.6 1143.7L1910.3 1147.5L1911.1 1146.3L1911.8 1144.4L1912.6 1141.3L1913.3 1137.5L1914.3 1132.1L1915.0 1127.2L1916.3 1115.4L1916.8 1111.5L1917.3 1109.5L1917.8 1108.5L1918.3 1109.8L1918.5 1110.7L1919.0 1114.0L1920.5 1129.0L1922.2 1141.9L1924.2 1157.5L1925.0 1161.3L1925.4 1162.7L1925.9 1163.6L1926.7 1161.6L1927.2 1159.5L1927.7 1156.4L1928.2 1152.3L1930.4 1130.4L1931.1 1120.9L1931.9 1109.5L1932.4 1103.5L1932.9 1100.3L1933.4 1098.6L1933.9 1099.2L1934.1 1099.9L1934.4 1100.9L1934.9 1104.7L1935.8 1114.1L1936.6 1118.4L1937.1 1120.2L1937.8 1122.0L1938.8 1123.7L1940.0 1125.3L1940.8 1115.7L1941.5 1101.1L1942.0 1086.0L1943.0 1042.3L1943.5 1024.4L1943.8 1019.0L1944.0 1015.7L1944.5 1012.0L1945.0 1015.4L1945.2 1018.6L1945.5 1023.8L1946.0 1041.5L1947.0 1085.3L1947.5 1100.8L1948.0 1112.2L1951.9 1177.5L1952.7 1185.8L1953.2 1189.4L1953.7 1192.1L1954.4 1187.8L1955.1 1180.8L1955.6 1174.1L1957.6 1142.4L1958.4 1132.7L1960.3 1109.5L1961.1 1097.9L1961.8 1079.7L1962.3 1060.5L1963.3 1003.9L1963.8 981.1L1964.1 974.6L1964.3 970.9L1964.8 967.4L1965.3 970.8L1965.5 974.6L1965.8 981.0L1966.3 1003.8L1967.3 1060.3L1967.8 1079.4L1968.5 1097.6L1969.3 1109.1L1971.2 1131.9L1972.0 1141.4L1974.2 1175.5L1975.0 1183.5L1975.4 1187.0L1975.9 1189.6L1976.7 1182.5L1977.4 1171.5L1977.9 1161.1L1978.7 1140.4L1979.2 1122.9L1979.7 1101.4L1980.9 1034.3L1981.1 1024.6L1981.6 1012.9L1982.1 1007.0L1982.6 1007.3L1983.1 1007.8L1983.6 1008.8L1984.6 1011.4L1985.3 1012.6L1985.8 1010.9L1986.8 1005.7L1987.3 1003.6L1987.8 1002.6L1988.3 1002.1L1988.8 1006.6L1989.1 1010.6L1989.3 1016.7L1989.8 1037.1L1990.5 1076.2L1991.0 1097.6L1991.8 1121.1L1992.8 1145.3L1994.0 1173.5L1994.5 1183.2L1995.0 1190.8L1995.5 1196.4L1996.2 1202.0L1996.7 1198.8L1997.5 1191.8L1998.2 1180.5L2000.0 1146.3L2001.7 1115.2L2002.2 1104.6L2002.7 1090.8L2003.2 1071.7L2004.2 1017.4L2004.7 995.4L2004.9 988.9L2005.1 985.1L2005.6 981.0L2006.1 984.5L2006.4 988.2L2006.6 994.3L2007.1 1015.7L2008.1 1068.5L2008.6 1086.7L2009.1 1099.5L2009.9 1112.8L2011.8 1140.3L2013.6 1167.1L2014.1 1173.5L2014.6 1178.4L2015.0 1181.9L2015.5 1184.7L2016.0 1184.4L2016.5 1183.7L2017.0 1182.4L2017.2 1181.5L2018.0 1183.1L2018.5 1183.9L2019.0 1184.4L2019.7 1184.7L2020.7 1173.8L2021.7 1157.8L2024.7 1094.9L2025.2 1082.5L2025.7 1067.2L2026.4 1033.1L2026.9 997.1L2027.9 889.9L2028.4 846.3L2028.7 833.9L2028.9 826.8L2029.4 820.4L2029.9 832.7L2030.1 843.0L2030.4 858.7L2030.9 909.5L2032.1 1062.9L2032.6 1106.2L2033.1 1141.0L2033.6 1169.8L2034.3 1203.4L2035.1 1226.0L2035.8 1241.6L2036.5 1233.3L2037.0 1224.7L2037.5 1212.5L2038.0 1196.7L2039.0 1158.0L2039.8 1123.7L2041.0 1050.5L2041.5 1026.5L2042.0 1013.2L2042.5 1005.8L2043.0 1010.3L2043.2 1014.2L2043.5 1020.3L2044.0 1040.3L2045.0 1089.9L2045.4 1108.4L2046.4 1135.6L2047.9 1167.4L2048.4 1175.5L2048.9 1181.6L2049.4 1186.1L2049.9 1189.6L2050.7 1182.8L2051.4 1173.2L2052.2 1159.8L2054.9 1103.6L2055.4 1091.8L2055.9 1076.9L2056.4 1056.6L2056.9 1027.3L2057.9 940.3L2058.4 904.6L2058.7 894.3L2058.9 888.3L2059.4 882.8L2059.9 891.9L2060.1 899.5L2060.4 911.4L2060.9 950.4L2062.1 1069.3L2062.6 1102.5L2063.1 1129.1L2063.8 1161.0L2064.5 1185.1L2065.3 1201.6L2066.0 1213.1L2066.5 1210.8L2067.0 1207.3L2067.7 1197.9L2070.9 1134.0L2072.4 1101.4L2072.9 1094.2L2073.2 1092.0L2073.7 1088.7L2074.2 1089.1L2074.4 1089.5L2074.7 1090.0L2074.9 1090.9L2075.9 1095.6L2076.4 1097.5L2077.1 1099.3L2077.9 1100.5L2078.9 1099.4L2079.6 1098.4L2080.1 1097.3L2080.6 1095.9L2081.3 1092.5L2082.3 1086.4L2082.8 1084.6L2083.1 1084.2L2083.6 1083.7L2084.1 1085.2L2084.3 1086.6L2084.6 1088.8L2084.8 1091.9L2085.8 1109.9L2086.5 1120.2L2087.3 1126.8L2089.0 1138.1L2089.8 1143.6L2090.5 1150.3L2092.2 1168.1L2093.0 1172.9L2093.5 1174.8L2094.0 1176.0L2094.5 1173.6L2094.9 1170.6L2095.4 1166.6L2095.9 1161.3L2097.4 1142.7L2098.4 1132.0L2099.6 1121.5L2102.1 1104.0L2102.9 1098.1L2103.6 1090.7L2104.3 1080.2L2105.1 1062.5L2105.6 1043.0L2106.1 1014.1L2107.1 941.3L2107.3 928.9L2107.6 920.9L2107.8 916.6L2108.1 914.5L2108.3 913.2L2108.8 926.3L2109.3 950.1L2109.8 992.8L2110.8 1094.6L2111.3 1131.3L2111.8 1157.3L2112.5 1182.8L2113.0 1194.6L2113.8 1194.0L2114.3 1193.2L2114.8 1191.8L2115.5 1188.9L2117.0 1189.5L2118.2 1189.6L2118.7 1186.6L2119.2 1182.7L2119.7 1177.5L2120.2 1170.5L2123.3 1116.4L2124.1 1101.5L2124.6 1087.7L2125.1 1068.5L2126.0 1014.6L2126.5 993.2L2126.8 987.0L2127.0 983.3L2127.5 979.5" stroke="#00ae66" stroke-width="6.4"/>
</g>
<g>
<text transform="translate(0,1484.00) scale(0.9400,1)" x="129.79 155.63 188.17 219.88 252.76 283.28 314.98 346.68" y="0" font-size="60.50">-100,000</text>
<text transform="translate(0,1318.75) scale(0.9400,1)" x="161.49 187.60 219.88 252.76 283.28 314.98 346.68" y="0" font-size="60.50">-50,000</text>
<text transform="translate(0,1153.50) scale(0.9400,1)" x="346.68" y="0" font-size="60.50">0</text>
<text transform="translate(0,988.25) scale(0.9400,1)" x="187.60 219.88 252.76 283.28 314.98 346.68" y="0" font-size="60.50">50,000</text>
<text transform="translate(0,823.00) scale(0.9400,1)" x="155.63 188.17 219.88 252.76 283.28 314.98 346.68" y="0" font-size="60.50">100,000</text>
<text transform="translate(0,657.75) scale(0.9400,1)" x="155.63 187.60 219.88 252.76 283.28 314.98 346.68" y="0" font-size="60.50">150,000</text>
<text transform="translate(0,492.50) scale(0.9400,1)" x="156.81 188.17 219.88 252.76 283.28 314.98 346.68" y="0" font-size="60.50">200,000</text>
<text transform="translate(0,327.25) scale(0.9400,1)" x="156.81 187.60 219.88 252.76 283.28 314.98 346.68" y="0" font-size="60.50">250,000</text>
<text transform="translate(0,162.00) scale(0.9400,1)" x="156.20 188.17 219.88 252.76 283.28 314.98 346.68" y="0" font-size="60.50">300,000</text>
<text transform="translate(0,1541.50) scale(0.9400,1)" x="394.45" y="0" font-size="60.50">0</text>
<text transform="translate(0,1541.50) scale(0.9400,1)" x="733.83 765.19 796.90" y="0" font-size="60.50">200</text>
<text transform="translate(0,1541.50) scale(0.9400,1)" x="1104.12 1135.94 1167.64" y="0" font-size="60.50">400</text>
<text transform="translate(0,1541.50) scale(0.9400,1)" x="1474.58 1506.68 1538.39" y="0" font-size="60.50">600</text>
<text transform="translate(0,1541.50) scale(0.9400,1)" x="1845.73 1877.43 1909.13" y="0" font-size="60.50">800</text>
<text transform="translate(0,1541.50) scale(0.9400,1)" x="2199.78 2232.32 2264.02 2295.73" y="0" font-size="60.50">1000</text>
</g>
<text class="m" transform="translate(1128.50,1637.50) scale(0.8355,1)" font-size="73.00" stroke-width="1.70" dx="0.00 0.00 0.00 0.00 6.82 -6.82 -8.74" dy="0.00 0.00 0.00 0.00 -6.60 6.60 -6.60">Time(s)</text>
<text class="m" transform="translate(92,1203) rotate(-90) translate(0.00,0.00) scale(0.8355,1)" font-size="73.00" stroke-width="1.70" dx="0.00 0.00 0.00 0.00 0.00 0.00 0.00 0.00 0.00 0.00 0.00 0.00 0.00 0.00 0.00 0.00 0.00 0.00 6.82 -6.82 0.00 0.00 0.00 -8.74" dy="0.00 0.00 0.00 0.00 0.00 0.00 0.00 0.00 0.00 0.00 0.00 0.00 0.00 0.00 0.00 0.00 0.00 0.00 -6.60 6.60 0.00 0.00 0.00 -6.60">Overturning moment(m-KN)</text>
<path d="M1578.0 76.0H1722.0" stroke="#515151" stroke-width="6" stroke-linecap="round" fill="none"/>
<text class="m" transform="translate(1760.00,101.20) scale(0.8355,1)" font-size="73.00" stroke-width="1.70">dynamic X</text>
<path d="M1578.0 156.3H1722.0" stroke="#fd3c3c" stroke-width="6" stroke-linecap="round" fill="none"/>
<text class="m" transform="translate(1760.00,181.50) scale(0.8355,1)" font-size="73.00" stroke-width="1.70">dynamic Y</text>
<path d="M1577.5 236.6H1722.5" stroke="#036ee4" stroke-width="5" stroke-linecap="round" fill="none"/>
<text class="m" transform="translate(1760.00,261.80) scale(0.8355,1)" font-size="73.00" stroke-width="1.70">static X</text>
<path d="M1578.0 316.9H1722.0" stroke="#00ae66" stroke-width="6" stroke-linecap="round" fill="none"/>
<text class="m" transform="translate(1760.00,342.10) scale(0.8355,1)" font-size="73.00" stroke-width="1.70">static Y</text>
</svg></body></html>
